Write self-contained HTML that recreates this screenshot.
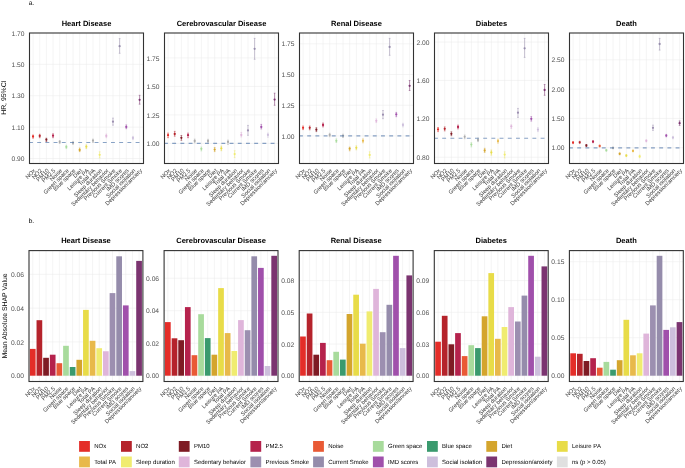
<!DOCTYPE html>
<html><head><meta charset="utf-8"><style>
html,body{margin:0;padding:0;background:#fff;}
svg{display:block;font-family:"Liberation Sans",sans-serif;will-change:transform;text-rendering:geometricPrecision;}
</style></head><body>
<svg width="685" height="468" viewBox="0 0 685 468">
<rect width="685" height="468" fill="#fff"/>
<text x="86.5" y="25.7" text-anchor="middle" font-weight="bold" font-size="7.5" fill="#000">Heart Disease</text>
<line x1="33.05" y1="33.0" x2="33.05" y2="163.5" stroke="#EBEBEB" stroke-width="0.55"/>
<line x1="39.71" y1="33.0" x2="39.71" y2="163.5" stroke="#EBEBEB" stroke-width="0.55"/>
<line x1="46.37" y1="33.0" x2="46.37" y2="163.5" stroke="#EBEBEB" stroke-width="0.55"/>
<line x1="53.03" y1="33.0" x2="53.03" y2="163.5" stroke="#EBEBEB" stroke-width="0.55"/>
<line x1="59.69" y1="33.0" x2="59.69" y2="163.5" stroke="#EBEBEB" stroke-width="0.55"/>
<line x1="66.35" y1="33.0" x2="66.35" y2="163.5" stroke="#EBEBEB" stroke-width="0.55"/>
<line x1="73.01" y1="33.0" x2="73.01" y2="163.5" stroke="#EBEBEB" stroke-width="0.55"/>
<line x1="79.67" y1="33.0" x2="79.67" y2="163.5" stroke="#EBEBEB" stroke-width="0.55"/>
<line x1="86.33" y1="33.0" x2="86.33" y2="163.5" stroke="#EBEBEB" stroke-width="0.55"/>
<line x1="92.99" y1="33.0" x2="92.99" y2="163.5" stroke="#EBEBEB" stroke-width="0.55"/>
<line x1="99.65" y1="33.0" x2="99.65" y2="163.5" stroke="#EBEBEB" stroke-width="0.55"/>
<line x1="106.31" y1="33.0" x2="106.31" y2="163.5" stroke="#EBEBEB" stroke-width="0.55"/>
<line x1="112.97" y1="33.0" x2="112.97" y2="163.5" stroke="#EBEBEB" stroke-width="0.55"/>
<line x1="119.63" y1="33.0" x2="119.63" y2="163.5" stroke="#EBEBEB" stroke-width="0.55"/>
<line x1="126.29" y1="33.0" x2="126.29" y2="163.5" stroke="#EBEBEB" stroke-width="0.55"/>
<line x1="132.95" y1="33.0" x2="132.95" y2="163.5" stroke="#EBEBEB" stroke-width="0.55"/>
<line x1="139.61" y1="33.0" x2="139.61" y2="163.5" stroke="#EBEBEB" stroke-width="0.55"/>
<line x1="29.5" y1="158.5" x2="143.5" y2="158.5" stroke="#EBEBEB" stroke-width="0.55"/>
<text x="24.5" y="161.1" text-anchor="end" font-size="6.7" fill="#505050">0.90</text>
<line x1="29.5" y1="127.1" x2="143.5" y2="127.1" stroke="#EBEBEB" stroke-width="0.55"/>
<text x="24.5" y="129.7" text-anchor="end" font-size="6.7" fill="#505050">1.10</text>
<line x1="29.5" y1="95.7" x2="143.5" y2="95.7" stroke="#EBEBEB" stroke-width="0.55"/>
<text x="24.5" y="98.3" text-anchor="end" font-size="6.7" fill="#505050">1.30</text>
<line x1="29.5" y1="64.3" x2="143.5" y2="64.3" stroke="#EBEBEB" stroke-width="0.55"/>
<text x="24.5" y="66.9" text-anchor="end" font-size="6.7" fill="#505050">1.50</text>
<text x="24.5" y="35.5" text-anchor="end" font-size="6.7" fill="#505050">1.70</text>
<line x1="33.05" y1="135" x2="33.05" y2="138.2" stroke="#E42D28" stroke-width="0.7" stroke-opacity="0.75"/>
<line x1="32.2" y1="135" x2="33.9" y2="135" stroke="#E42D28" stroke-width="0.6" stroke-opacity="0.8"/>
<line x1="32.2" y1="138.2" x2="33.9" y2="138.2" stroke="#E42D28" stroke-width="0.6" stroke-opacity="0.8"/>
<ellipse cx="33.05" cy="136.5" rx="1.1" ry="1.15" fill="#E42D28"/>
<line x1="39.71" y1="134.3" x2="39.71" y2="137.7" stroke="#B5232B" stroke-width="0.7" stroke-opacity="0.75"/>
<line x1="38.86" y1="134.3" x2="40.56" y2="134.3" stroke="#B5232B" stroke-width="0.6" stroke-opacity="0.8"/>
<line x1="38.86" y1="137.7" x2="40.56" y2="137.7" stroke="#B5232B" stroke-width="0.6" stroke-opacity="0.8"/>
<ellipse cx="39.71" cy="135.9" rx="1.1" ry="1.15" fill="#B5232B"/>
<line x1="46.37" y1="138.2" x2="46.37" y2="141.5" stroke="#7E1B24" stroke-width="0.7" stroke-opacity="0.75"/>
<line x1="45.52" y1="138.2" x2="47.22" y2="138.2" stroke="#7E1B24" stroke-width="0.6" stroke-opacity="0.8"/>
<line x1="45.52" y1="141.5" x2="47.22" y2="141.5" stroke="#7E1B24" stroke-width="0.6" stroke-opacity="0.8"/>
<ellipse cx="46.37" cy="139.7" rx="1.1" ry="1.15" fill="#7E1B24"/>
<line x1="53.03" y1="133.8" x2="53.03" y2="137.7" stroke="#B5224C" stroke-width="0.7" stroke-opacity="0.75"/>
<line x1="52.18" y1="133.8" x2="53.88" y2="133.8" stroke="#B5224C" stroke-width="0.6" stroke-opacity="0.8"/>
<line x1="52.18" y1="137.7" x2="53.88" y2="137.7" stroke="#B5224C" stroke-width="0.6" stroke-opacity="0.8"/>
<ellipse cx="53.03" cy="135.7" rx="1.1" ry="1.15" fill="#B5224C"/>
<line x1="59.69" y1="140.5" x2="59.69" y2="143.5" stroke="#ABABAB" stroke-width="0.7" stroke-opacity="0.75"/>
<line x1="58.84" y1="140.5" x2="60.54" y2="140.5" stroke="#ABABAB" stroke-width="0.6" stroke-opacity="0.8"/>
<line x1="58.84" y1="143.5" x2="60.54" y2="143.5" stroke="#ABABAB" stroke-width="0.6" stroke-opacity="0.8"/>
<ellipse cx="59.69" cy="141.9" rx="1.1" ry="1.15" fill="#ABABAB"/>
<line x1="66.35" y1="145.3" x2="66.35" y2="148.6" stroke="#A8DB9C" stroke-width="0.7" stroke-opacity="0.75"/>
<line x1="65.5" y1="145.3" x2="67.2" y2="145.3" stroke="#A8DB9C" stroke-width="0.6" stroke-opacity="0.8"/>
<line x1="65.5" y1="148.6" x2="67.2" y2="148.6" stroke="#A8DB9C" stroke-width="0.6" stroke-opacity="0.8"/>
<ellipse cx="66.35" cy="146.9" rx="1.1" ry="1.15" fill="#A8DB9C"/>
<line x1="73.01" y1="141.4" x2="73.01" y2="144.4" stroke="#ABABAB" stroke-width="0.7" stroke-opacity="0.75"/>
<line x1="72.16" y1="141.4" x2="73.86" y2="141.4" stroke="#ABABAB" stroke-width="0.6" stroke-opacity="0.8"/>
<line x1="72.16" y1="144.4" x2="73.86" y2="144.4" stroke="#ABABAB" stroke-width="0.6" stroke-opacity="0.8"/>
<ellipse cx="73.01" cy="142.9" rx="1.1" ry="1.15" fill="#ABABAB"/>
<line x1="79.67" y1="148" x2="79.67" y2="151.6" stroke="#D4A52D" stroke-width="0.7" stroke-opacity="0.75"/>
<line x1="78.82" y1="148" x2="80.52" y2="148" stroke="#D4A52D" stroke-width="0.6" stroke-opacity="0.8"/>
<line x1="78.82" y1="151.6" x2="80.52" y2="151.6" stroke="#D4A52D" stroke-width="0.6" stroke-opacity="0.8"/>
<ellipse cx="79.67" cy="150" rx="1.1" ry="1.15" fill="#D4A52D"/>
<line x1="86.33" y1="144.9" x2="86.33" y2="148.6" stroke="#E8DC48" stroke-width="0.7" stroke-opacity="0.75"/>
<line x1="85.48" y1="144.9" x2="87.18" y2="144.9" stroke="#E8DC48" stroke-width="0.6" stroke-opacity="0.8"/>
<line x1="85.48" y1="148.6" x2="87.18" y2="148.6" stroke="#E8DC48" stroke-width="0.6" stroke-opacity="0.8"/>
<ellipse cx="86.33" cy="146.7" rx="1.1" ry="1.15" fill="#E8DC48"/>
<line x1="92.99" y1="139.1" x2="92.99" y2="142.5" stroke="#ABABAB" stroke-width="0.7" stroke-opacity="0.75"/>
<line x1="92.14" y1="139.1" x2="93.84" y2="139.1" stroke="#ABABAB" stroke-width="0.6" stroke-opacity="0.8"/>
<line x1="92.14" y1="142.5" x2="93.84" y2="142.5" stroke="#ABABAB" stroke-width="0.6" stroke-opacity="0.8"/>
<ellipse cx="92.99" cy="140.7" rx="1.1" ry="1.15" fill="#ABABAB"/>
<line x1="99.65" y1="151.8" x2="99.65" y2="157.9" stroke="#F0EC70" stroke-width="0.7" stroke-opacity="0.75"/>
<line x1="98.8" y1="151.8" x2="100.5" y2="151.8" stroke="#F0EC70" stroke-width="0.6" stroke-opacity="0.8"/>
<line x1="98.8" y1="157.9" x2="100.5" y2="157.9" stroke="#F0EC70" stroke-width="0.6" stroke-opacity="0.8"/>
<ellipse cx="99.65" cy="154.8" rx="1.1" ry="1.15" fill="#F0EC70"/>
<line x1="106.31" y1="134.1" x2="106.31" y2="137.7" stroke="#DFB5DA" stroke-width="0.7" stroke-opacity="0.75"/>
<line x1="105.46" y1="134.1" x2="107.16" y2="134.1" stroke="#DFB5DA" stroke-width="0.6" stroke-opacity="0.8"/>
<line x1="105.46" y1="137.7" x2="107.16" y2="137.7" stroke="#DFB5DA" stroke-width="0.6" stroke-opacity="0.8"/>
<ellipse cx="106.31" cy="135.9" rx="1.1" ry="1.15" fill="#DFB5DA"/>
<line x1="112.97" y1="118.1" x2="112.97" y2="125.2" stroke="#9C8FB0" stroke-width="0.7" stroke-opacity="0.75"/>
<line x1="112.12" y1="118.1" x2="113.82" y2="118.1" stroke="#9C8FB0" stroke-width="0.6" stroke-opacity="0.8"/>
<line x1="112.12" y1="125.2" x2="113.82" y2="125.2" stroke="#9C8FB0" stroke-width="0.6" stroke-opacity="0.8"/>
<ellipse cx="112.97" cy="121.7" rx="1.1" ry="1.15" fill="#9C8FB0"/>
<line x1="119.63" y1="38.6" x2="119.63" y2="53.3" stroke="#958CAB" stroke-width="0.7" stroke-opacity="0.75"/>
<line x1="118.78" y1="38.6" x2="120.48" y2="38.6" stroke="#958CAB" stroke-width="0.6" stroke-opacity="0.8"/>
<line x1="118.78" y1="53.3" x2="120.48" y2="53.3" stroke="#958CAB" stroke-width="0.6" stroke-opacity="0.8"/>
<ellipse cx="119.63" cy="46.2" rx="1.1" ry="1.15" fill="#958CAB"/>
<line x1="126.29" y1="124.9" x2="126.29" y2="128.7" stroke="#A050AB" stroke-width="0.7" stroke-opacity="0.75"/>
<line x1="125.44" y1="124.9" x2="127.14" y2="124.9" stroke="#A050AB" stroke-width="0.6" stroke-opacity="0.8"/>
<line x1="125.44" y1="128.7" x2="127.14" y2="128.7" stroke="#A050AB" stroke-width="0.6" stroke-opacity="0.8"/>
<ellipse cx="126.29" cy="126.9" rx="1.1" ry="1.15" fill="#A050AB"/>
<line x1="132.95" y1="136.4" x2="132.95" y2="139.6" stroke="#CDBFDC" stroke-width="0.7" stroke-opacity="0.75"/>
<line x1="132.1" y1="136.4" x2="133.8" y2="136.4" stroke="#CDBFDC" stroke-width="0.6" stroke-opacity="0.8"/>
<line x1="132.1" y1="139.6" x2="133.8" y2="139.6" stroke="#CDBFDC" stroke-width="0.6" stroke-opacity="0.8"/>
<ellipse cx="132.95" cy="138" rx="1.1" ry="1.15" fill="#CDBFDC"/>
<line x1="139.61" y1="95.3" x2="139.61" y2="104.2" stroke="#7B3470" stroke-width="0.7" stroke-opacity="0.75"/>
<line x1="138.76" y1="95.3" x2="140.46" y2="95.3" stroke="#7B3470" stroke-width="0.6" stroke-opacity="0.8"/>
<line x1="138.76" y1="104.2" x2="140.46" y2="104.2" stroke="#7B3470" stroke-width="0.6" stroke-opacity="0.8"/>
<ellipse cx="139.61" cy="99.8" rx="1.1" ry="1.15" fill="#7B3470"/>
<line x1="29.5" y1="142.55" x2="143.5" y2="142.55" stroke="#4A72A8" stroke-opacity="0.65" stroke-width="1.1" stroke-dasharray="3.9 4.3" stroke-dashoffset="0.5"/>
<rect x="29.5" y="33.0" width="114.0" height="130.5" fill="none" stroke="#333333" stroke-width="1.1"/>
<text x="33.65" y="168.7" transform="rotate(-45 33.65 168.7)" text-anchor="end" dominant-baseline="hanging" font-size="5.8" fill="#3A3A3A">NOx</text>
<text x="40.31" y="168.7" transform="rotate(-45 40.31 168.7)" text-anchor="end" dominant-baseline="hanging" font-size="5.8" fill="#3A3A3A">NO2</text>
<text x="46.97" y="168.7" transform="rotate(-45 46.97 168.7)" text-anchor="end" dominant-baseline="hanging" font-size="5.8" fill="#3A3A3A">PM10</text>
<text x="53.63" y="168.7" transform="rotate(-45 53.63 168.7)" text-anchor="end" dominant-baseline="hanging" font-size="5.8" fill="#3A3A3A">PM2.5</text>
<text x="60.29" y="168.7" transform="rotate(-45 60.29 168.7)" text-anchor="end" dominant-baseline="hanging" font-size="5.8" fill="#3A3A3A">Noise</text>
<text x="66.95" y="168.7" transform="rotate(-45 66.95 168.7)" text-anchor="end" dominant-baseline="hanging" font-size="5.8" fill="#3A3A3A">Green space</text>
<text x="73.61" y="168.7" transform="rotate(-45 73.61 168.7)" text-anchor="end" dominant-baseline="hanging" font-size="5.8" fill="#3A3A3A">Blue space</text>
<text x="80.27" y="168.7" transform="rotate(-45 80.27 168.7)" text-anchor="end" dominant-baseline="hanging" font-size="5.8" fill="#3A3A3A">Diet</text>
<text x="86.93" y="168.7" transform="rotate(-45 86.93 168.7)" text-anchor="end" dominant-baseline="hanging" font-size="5.8" fill="#3A3A3A">Leisure PA</text>
<text x="93.59" y="168.7" transform="rotate(-45 93.59 168.7)" text-anchor="end" dominant-baseline="hanging" font-size="5.8" fill="#3A3A3A">Total PA</text>
<text x="100.25" y="168.7" transform="rotate(-45 100.25 168.7)" text-anchor="end" dominant-baseline="hanging" font-size="5.8" fill="#3A3A3A">Sleep duration</text>
<text x="106.91" y="168.7" transform="rotate(-45 106.91 168.7)" text-anchor="end" dominant-baseline="hanging" font-size="5.8" fill="#3A3A3A">Sedentary behavior</text>
<text x="113.57" y="168.7" transform="rotate(-45 113.57 168.7)" text-anchor="end" dominant-baseline="hanging" font-size="5.8" fill="#3A3A3A">Previous Smoke</text>
<text x="120.23" y="168.7" transform="rotate(-45 120.23 168.7)" text-anchor="end" dominant-baseline="hanging" font-size="5.8" fill="#3A3A3A">Current Smoke</text>
<text x="126.89" y="168.7" transform="rotate(-45 126.89 168.7)" text-anchor="end" dominant-baseline="hanging" font-size="5.8" fill="#3A3A3A">IMD scores</text>
<text x="133.55" y="168.7" transform="rotate(-45 133.55 168.7)" text-anchor="end" dominant-baseline="hanging" font-size="5.8" fill="#3A3A3A">Social isolation</text>
<text x="140.21" y="168.7" transform="rotate(-45 140.21 168.7)" text-anchor="end" dominant-baseline="hanging" font-size="5.8" fill="#3A3A3A">Depression/anxiety</text>
<text x="85.95" y="243.4" text-anchor="middle" font-weight="bold" font-size="7.5" fill="#000">Heart Disease</text>
<line x1="32.75" y1="250.6" x2="32.75" y2="381.5" stroke="#EBEBEB" stroke-width="0.55"/>
<line x1="39.39" y1="250.6" x2="39.39" y2="381.5" stroke="#EBEBEB" stroke-width="0.55"/>
<line x1="46.04" y1="250.6" x2="46.04" y2="381.5" stroke="#EBEBEB" stroke-width="0.55"/>
<line x1="52.69" y1="250.6" x2="52.69" y2="381.5" stroke="#EBEBEB" stroke-width="0.55"/>
<line x1="59.33" y1="250.6" x2="59.33" y2="381.5" stroke="#EBEBEB" stroke-width="0.55"/>
<line x1="65.97" y1="250.6" x2="65.97" y2="381.5" stroke="#EBEBEB" stroke-width="0.55"/>
<line x1="72.62" y1="250.6" x2="72.62" y2="381.5" stroke="#EBEBEB" stroke-width="0.55"/>
<line x1="79.27" y1="250.6" x2="79.27" y2="381.5" stroke="#EBEBEB" stroke-width="0.55"/>
<line x1="85.91" y1="250.6" x2="85.91" y2="381.5" stroke="#EBEBEB" stroke-width="0.55"/>
<line x1="92.55" y1="250.6" x2="92.55" y2="381.5" stroke="#EBEBEB" stroke-width="0.55"/>
<line x1="99.2" y1="250.6" x2="99.2" y2="381.5" stroke="#EBEBEB" stroke-width="0.55"/>
<line x1="105.84" y1="250.6" x2="105.84" y2="381.5" stroke="#EBEBEB" stroke-width="0.55"/>
<line x1="112.49" y1="250.6" x2="112.49" y2="381.5" stroke="#EBEBEB" stroke-width="0.55"/>
<line x1="119.13" y1="250.6" x2="119.13" y2="381.5" stroke="#EBEBEB" stroke-width="0.55"/>
<line x1="125.78" y1="250.6" x2="125.78" y2="381.5" stroke="#EBEBEB" stroke-width="0.55"/>
<line x1="132.43" y1="250.6" x2="132.43" y2="381.5" stroke="#EBEBEB" stroke-width="0.55"/>
<line x1="139.07" y1="250.6" x2="139.07" y2="381.5" stroke="#EBEBEB" stroke-width="0.55"/>
<line x1="29.0" y1="375.7" x2="142.9" y2="375.7" stroke="#EBEBEB" stroke-width="0.55"/>
<text x="24" y="378.3" text-anchor="end" font-size="6.7" fill="#505050">0.00</text>
<line x1="29.0" y1="341.9" x2="142.9" y2="341.9" stroke="#EBEBEB" stroke-width="0.55"/>
<text x="24" y="344.5" text-anchor="end" font-size="6.7" fill="#505050">0.02</text>
<line x1="29.0" y1="308.1" x2="142.9" y2="308.1" stroke="#EBEBEB" stroke-width="0.55"/>
<text x="24" y="310.7" text-anchor="end" font-size="6.7" fill="#505050">0.04</text>
<line x1="29.0" y1="274.3" x2="142.9" y2="274.3" stroke="#EBEBEB" stroke-width="0.55"/>
<text x="24" y="276.9" text-anchor="end" font-size="6.7" fill="#505050">0.06</text>
<rect x="29.9" y="348.9" width="5.7" height="26.8" fill="#E42D28"/>
<rect x="36.54" y="320.2" width="5.7" height="55.5" fill="#B5232B"/>
<rect x="43.19" y="357.8" width="5.7" height="17.9" fill="#7E1B24"/>
<rect x="49.84" y="354.7" width="5.7" height="21" fill="#B5224C"/>
<rect x="56.48" y="363.2" width="5.7" height="12.5" fill="#E95A35"/>
<rect x="63.12" y="345.8" width="5.7" height="29.9" fill="#A8DB9C"/>
<rect x="69.77" y="367" width="5.7" height="8.7" fill="#3A9A6E"/>
<rect x="76.42" y="359.8" width="5.7" height="15.9" fill="#D4A52D"/>
<rect x="83.06" y="309.9" width="5.7" height="65.8" fill="#E8DC48"/>
<rect x="89.7" y="340.8" width="5.7" height="34.9" fill="#E8B94A"/>
<rect x="96.35" y="348.2" width="5.7" height="27.5" fill="#F0EC70"/>
<rect x="103" y="351.25" width="5.7" height="24.45" fill="#DFB5DA"/>
<rect x="109.64" y="293.1" width="5.7" height="82.6" fill="#9C8FB0"/>
<rect x="116.28" y="256.3" width="5.7" height="119.4" fill="#958CAB"/>
<rect x="122.93" y="305.4" width="5.7" height="70.3" fill="#A050AB"/>
<rect x="129.58" y="371.1" width="5.7" height="4.6" fill="#CDBFDC"/>
<rect x="136.22" y="260.9" width="5.7" height="114.8" fill="#7B3470"/>
<rect x="29.0" y="250.6" width="113.9" height="130.9" fill="none" stroke="#333333" stroke-width="1.1"/>
<text x="33.35" y="386.7" transform="rotate(-45 33.35 386.7)" text-anchor="end" dominant-baseline="hanging" font-size="5.8" fill="#3A3A3A">NOx</text>
<text x="39.99" y="386.7" transform="rotate(-45 39.99 386.7)" text-anchor="end" dominant-baseline="hanging" font-size="5.8" fill="#3A3A3A">NO2</text>
<text x="46.64" y="386.7" transform="rotate(-45 46.64 386.7)" text-anchor="end" dominant-baseline="hanging" font-size="5.8" fill="#3A3A3A">PM10</text>
<text x="53.29" y="386.7" transform="rotate(-45 53.29 386.7)" text-anchor="end" dominant-baseline="hanging" font-size="5.8" fill="#3A3A3A">PM2.5</text>
<text x="59.93" y="386.7" transform="rotate(-45 59.93 386.7)" text-anchor="end" dominant-baseline="hanging" font-size="5.8" fill="#3A3A3A">Noise</text>
<text x="66.57" y="386.7" transform="rotate(-45 66.57 386.7)" text-anchor="end" dominant-baseline="hanging" font-size="5.8" fill="#3A3A3A">Green space</text>
<text x="73.22" y="386.7" transform="rotate(-45 73.22 386.7)" text-anchor="end" dominant-baseline="hanging" font-size="5.8" fill="#3A3A3A">Blue space</text>
<text x="79.86" y="386.7" transform="rotate(-45 79.86 386.7)" text-anchor="end" dominant-baseline="hanging" font-size="5.8" fill="#3A3A3A">Diet</text>
<text x="86.51" y="386.7" transform="rotate(-45 86.51 386.7)" text-anchor="end" dominant-baseline="hanging" font-size="5.8" fill="#3A3A3A">Leisure PA</text>
<text x="93.15" y="386.7" transform="rotate(-45 93.15 386.7)" text-anchor="end" dominant-baseline="hanging" font-size="5.8" fill="#3A3A3A">Total PA</text>
<text x="99.8" y="386.7" transform="rotate(-45 99.8 386.7)" text-anchor="end" dominant-baseline="hanging" font-size="5.8" fill="#3A3A3A">Sleep duration</text>
<text x="106.44" y="386.7" transform="rotate(-45 106.44 386.7)" text-anchor="end" dominant-baseline="hanging" font-size="5.8" fill="#3A3A3A">Sedentary behavior</text>
<text x="113.09" y="386.7" transform="rotate(-45 113.09 386.7)" text-anchor="end" dominant-baseline="hanging" font-size="5.8" fill="#3A3A3A">Previous Smoke</text>
<text x="119.73" y="386.7" transform="rotate(-45 119.73 386.7)" text-anchor="end" dominant-baseline="hanging" font-size="5.8" fill="#3A3A3A">Current Smoke</text>
<text x="126.38" y="386.7" transform="rotate(-45 126.38 386.7)" text-anchor="end" dominant-baseline="hanging" font-size="5.8" fill="#3A3A3A">IMD scores</text>
<text x="133.03" y="386.7" transform="rotate(-45 133.03 386.7)" text-anchor="end" dominant-baseline="hanging" font-size="5.8" fill="#3A3A3A">Social isolation</text>
<text x="139.67" y="386.7" transform="rotate(-45 139.67 386.7)" text-anchor="end" dominant-baseline="hanging" font-size="5.8" fill="#3A3A3A">Depression/anxiety</text>
<text x="221.5" y="25.7" text-anchor="middle" font-weight="bold" font-size="7.5" fill="#000">Cerebrovascular Disease</text>
<line x1="168.05" y1="33.0" x2="168.05" y2="163.5" stroke="#EBEBEB" stroke-width="0.55"/>
<line x1="174.71" y1="33.0" x2="174.71" y2="163.5" stroke="#EBEBEB" stroke-width="0.55"/>
<line x1="181.37" y1="33.0" x2="181.37" y2="163.5" stroke="#EBEBEB" stroke-width="0.55"/>
<line x1="188.03" y1="33.0" x2="188.03" y2="163.5" stroke="#EBEBEB" stroke-width="0.55"/>
<line x1="194.69" y1="33.0" x2="194.69" y2="163.5" stroke="#EBEBEB" stroke-width="0.55"/>
<line x1="201.35" y1="33.0" x2="201.35" y2="163.5" stroke="#EBEBEB" stroke-width="0.55"/>
<line x1="208.01" y1="33.0" x2="208.01" y2="163.5" stroke="#EBEBEB" stroke-width="0.55"/>
<line x1="214.67" y1="33.0" x2="214.67" y2="163.5" stroke="#EBEBEB" stroke-width="0.55"/>
<line x1="221.33" y1="33.0" x2="221.33" y2="163.5" stroke="#EBEBEB" stroke-width="0.55"/>
<line x1="227.99" y1="33.0" x2="227.99" y2="163.5" stroke="#EBEBEB" stroke-width="0.55"/>
<line x1="234.65" y1="33.0" x2="234.65" y2="163.5" stroke="#EBEBEB" stroke-width="0.55"/>
<line x1="241.31" y1="33.0" x2="241.31" y2="163.5" stroke="#EBEBEB" stroke-width="0.55"/>
<line x1="247.97" y1="33.0" x2="247.97" y2="163.5" stroke="#EBEBEB" stroke-width="0.55"/>
<line x1="254.63" y1="33.0" x2="254.63" y2="163.5" stroke="#EBEBEB" stroke-width="0.55"/>
<line x1="261.29" y1="33.0" x2="261.29" y2="163.5" stroke="#EBEBEB" stroke-width="0.55"/>
<line x1="267.95" y1="33.0" x2="267.95" y2="163.5" stroke="#EBEBEB" stroke-width="0.55"/>
<line x1="274.61" y1="33.0" x2="274.61" y2="163.5" stroke="#EBEBEB" stroke-width="0.55"/>
<line x1="164.5" y1="143.4" x2="278.5" y2="143.4" stroke="#EBEBEB" stroke-width="0.55"/>
<text x="159.5" y="146" text-anchor="end" font-size="6.7" fill="#505050">1.00</text>
<line x1="164.5" y1="114.9" x2="278.5" y2="114.9" stroke="#EBEBEB" stroke-width="0.55"/>
<text x="159.5" y="117.5" text-anchor="end" font-size="6.7" fill="#505050">1.25</text>
<line x1="164.5" y1="86.4" x2="278.5" y2="86.4" stroke="#EBEBEB" stroke-width="0.55"/>
<text x="159.5" y="89" text-anchor="end" font-size="6.7" fill="#505050">1.50</text>
<line x1="164.5" y1="57.9" x2="278.5" y2="57.9" stroke="#EBEBEB" stroke-width="0.55"/>
<text x="159.5" y="60.5" text-anchor="end" font-size="6.7" fill="#505050">1.75</text>
<line x1="168.05" y1="133.1" x2="168.05" y2="137.7" stroke="#E42D28" stroke-width="0.7" stroke-opacity="0.75"/>
<line x1="167.2" y1="133.1" x2="168.9" y2="133.1" stroke="#E42D28" stroke-width="0.6" stroke-opacity="0.8"/>
<line x1="167.2" y1="137.7" x2="168.9" y2="137.7" stroke="#E42D28" stroke-width="0.6" stroke-opacity="0.8"/>
<ellipse cx="168.05" cy="135.2" rx="1.1" ry="1.15" fill="#E42D28"/>
<line x1="174.71" y1="131.4" x2="174.71" y2="136.2" stroke="#B5232B" stroke-width="0.7" stroke-opacity="0.75"/>
<line x1="173.86" y1="131.4" x2="175.56" y2="131.4" stroke="#B5232B" stroke-width="0.6" stroke-opacity="0.8"/>
<line x1="173.86" y1="136.2" x2="175.56" y2="136.2" stroke="#B5232B" stroke-width="0.6" stroke-opacity="0.8"/>
<ellipse cx="174.71" cy="134" rx="1.1" ry="1.15" fill="#B5232B"/>
<line x1="181.37" y1="135.5" x2="181.37" y2="140.3" stroke="#7E1B24" stroke-width="0.7" stroke-opacity="0.75"/>
<line x1="180.52" y1="135.5" x2="182.22" y2="135.5" stroke="#7E1B24" stroke-width="0.6" stroke-opacity="0.8"/>
<line x1="180.52" y1="140.3" x2="182.22" y2="140.3" stroke="#7E1B24" stroke-width="0.6" stroke-opacity="0.8"/>
<ellipse cx="181.37" cy="137.8" rx="1.1" ry="1.15" fill="#7E1B24"/>
<line x1="188.03" y1="133.1" x2="188.03" y2="137.7" stroke="#B5224C" stroke-width="0.7" stroke-opacity="0.75"/>
<line x1="187.18" y1="133.1" x2="188.88" y2="133.1" stroke="#B5224C" stroke-width="0.6" stroke-opacity="0.8"/>
<line x1="187.18" y1="137.7" x2="188.88" y2="137.7" stroke="#B5224C" stroke-width="0.6" stroke-opacity="0.8"/>
<ellipse cx="188.03" cy="135.2" rx="1.1" ry="1.15" fill="#B5224C"/>
<line x1="194.69" y1="139.1" x2="194.69" y2="142.8" stroke="#ABABAB" stroke-width="0.7" stroke-opacity="0.75"/>
<line x1="193.84" y1="139.1" x2="195.54" y2="139.1" stroke="#ABABAB" stroke-width="0.6" stroke-opacity="0.8"/>
<line x1="193.84" y1="142.8" x2="195.54" y2="142.8" stroke="#ABABAB" stroke-width="0.6" stroke-opacity="0.8"/>
<ellipse cx="194.69" cy="141" rx="1.1" ry="1.15" fill="#ABABAB"/>
<line x1="201.35" y1="147" x2="201.35" y2="150.9" stroke="#A8DB9C" stroke-width="0.7" stroke-opacity="0.75"/>
<line x1="200.5" y1="147" x2="202.2" y2="147" stroke="#A8DB9C" stroke-width="0.6" stroke-opacity="0.8"/>
<line x1="200.5" y1="150.9" x2="202.2" y2="150.9" stroke="#A8DB9C" stroke-width="0.6" stroke-opacity="0.8"/>
<ellipse cx="201.35" cy="148.8" rx="1.1" ry="1.15" fill="#A8DB9C"/>
<line x1="208.01" y1="139.3" x2="208.01" y2="142.9" stroke="#ABABAB" stroke-width="0.7" stroke-opacity="0.75"/>
<line x1="207.16" y1="139.3" x2="208.86" y2="139.3" stroke="#ABABAB" stroke-width="0.6" stroke-opacity="0.8"/>
<line x1="207.16" y1="142.9" x2="208.86" y2="142.9" stroke="#ABABAB" stroke-width="0.6" stroke-opacity="0.8"/>
<ellipse cx="208.01" cy="141" rx="1.1" ry="1.15" fill="#ABABAB"/>
<line x1="214.67" y1="147.5" x2="214.67" y2="151.6" stroke="#D4A52D" stroke-width="0.7" stroke-opacity="0.75"/>
<line x1="213.82" y1="147.5" x2="215.52" y2="147.5" stroke="#D4A52D" stroke-width="0.6" stroke-opacity="0.8"/>
<line x1="213.82" y1="151.6" x2="215.52" y2="151.6" stroke="#D4A52D" stroke-width="0.6" stroke-opacity="0.8"/>
<ellipse cx="214.67" cy="149.6" rx="1.1" ry="1.15" fill="#D4A52D"/>
<line x1="221.33" y1="146.1" x2="221.33" y2="150.7" stroke="#E8DC48" stroke-width="0.7" stroke-opacity="0.75"/>
<line x1="220.48" y1="146.1" x2="222.18" y2="146.1" stroke="#E8DC48" stroke-width="0.6" stroke-opacity="0.8"/>
<line x1="220.48" y1="150.7" x2="222.18" y2="150.7" stroke="#E8DC48" stroke-width="0.6" stroke-opacity="0.8"/>
<ellipse cx="221.33" cy="148.4" rx="1.1" ry="1.15" fill="#E8DC48"/>
<line x1="227.99" y1="140.1" x2="227.99" y2="144.4" stroke="#ABABAB" stroke-width="0.7" stroke-opacity="0.75"/>
<line x1="227.14" y1="140.1" x2="228.84" y2="140.1" stroke="#ABABAB" stroke-width="0.6" stroke-opacity="0.8"/>
<line x1="227.14" y1="144.4" x2="228.84" y2="144.4" stroke="#ABABAB" stroke-width="0.6" stroke-opacity="0.8"/>
<ellipse cx="227.99" cy="141.9" rx="1.1" ry="1.15" fill="#ABABAB"/>
<line x1="234.65" y1="150.7" x2="234.65" y2="157.6" stroke="#F0EC70" stroke-width="0.7" stroke-opacity="0.75"/>
<line x1="233.8" y1="150.7" x2="235.5" y2="150.7" stroke="#F0EC70" stroke-width="0.6" stroke-opacity="0.8"/>
<line x1="233.8" y1="157.6" x2="235.5" y2="157.6" stroke="#F0EC70" stroke-width="0.6" stroke-opacity="0.8"/>
<ellipse cx="234.65" cy="154.1" rx="1.1" ry="1.15" fill="#F0EC70"/>
<line x1="241.31" y1="132.4" x2="241.31" y2="137" stroke="#DFB5DA" stroke-width="0.7" stroke-opacity="0.75"/>
<line x1="240.46" y1="132.4" x2="242.16" y2="132.4" stroke="#DFB5DA" stroke-width="0.6" stroke-opacity="0.8"/>
<line x1="240.46" y1="137" x2="242.16" y2="137" stroke="#DFB5DA" stroke-width="0.6" stroke-opacity="0.8"/>
<ellipse cx="241.31" cy="134.9" rx="1.1" ry="1.15" fill="#DFB5DA"/>
<line x1="247.97" y1="125.4" x2="247.97" y2="135.3" stroke="#9C8FB0" stroke-width="0.7" stroke-opacity="0.75"/>
<line x1="247.12" y1="125.4" x2="248.82" y2="125.4" stroke="#9C8FB0" stroke-width="0.6" stroke-opacity="0.8"/>
<line x1="247.12" y1="135.3" x2="248.82" y2="135.3" stroke="#9C8FB0" stroke-width="0.6" stroke-opacity="0.8"/>
<ellipse cx="247.97" cy="130.4" rx="1.1" ry="1.15" fill="#9C8FB0"/>
<line x1="254.63" y1="38.4" x2="254.63" y2="59.3" stroke="#958CAB" stroke-width="0.7" stroke-opacity="0.75"/>
<line x1="253.78" y1="38.4" x2="255.48" y2="38.4" stroke="#958CAB" stroke-width="0.6" stroke-opacity="0.8"/>
<line x1="253.78" y1="59.3" x2="255.48" y2="59.3" stroke="#958CAB" stroke-width="0.6" stroke-opacity="0.8"/>
<ellipse cx="254.63" cy="48.8" rx="1.1" ry="1.15" fill="#958CAB"/>
<line x1="261.29" y1="124.4" x2="261.29" y2="129" stroke="#A050AB" stroke-width="0.7" stroke-opacity="0.75"/>
<line x1="260.44" y1="124.4" x2="262.14" y2="124.4" stroke="#A050AB" stroke-width="0.6" stroke-opacity="0.8"/>
<line x1="260.44" y1="129" x2="262.14" y2="129" stroke="#A050AB" stroke-width="0.6" stroke-opacity="0.8"/>
<ellipse cx="261.29" cy="126.9" rx="1.1" ry="1.15" fill="#A050AB"/>
<line x1="267.95" y1="133.1" x2="267.95" y2="137.2" stroke="#CDBFDC" stroke-width="0.7" stroke-opacity="0.75"/>
<line x1="267.1" y1="133.1" x2="268.8" y2="133.1" stroke="#CDBFDC" stroke-width="0.6" stroke-opacity="0.8"/>
<line x1="267.1" y1="137.2" x2="268.8" y2="137.2" stroke="#CDBFDC" stroke-width="0.6" stroke-opacity="0.8"/>
<ellipse cx="267.95" cy="134.9" rx="1.1" ry="1.15" fill="#CDBFDC"/>
<line x1="274.61" y1="93.2" x2="274.61" y2="105.3" stroke="#7B3470" stroke-width="0.7" stroke-opacity="0.75"/>
<line x1="273.76" y1="93.2" x2="275.46" y2="93.2" stroke="#7B3470" stroke-width="0.6" stroke-opacity="0.8"/>
<line x1="273.76" y1="105.3" x2="275.46" y2="105.3" stroke="#7B3470" stroke-width="0.6" stroke-opacity="0.8"/>
<ellipse cx="274.61" cy="99.6" rx="1.1" ry="1.15" fill="#7B3470"/>
<line x1="164.5" y1="143.35" x2="278.5" y2="143.35" stroke="#4A72A8" stroke-opacity="0.65" stroke-width="1.1" stroke-dasharray="3.9 4.3" stroke-dashoffset="0.5"/>
<rect x="164.5" y="33.0" width="114.0" height="130.5" fill="none" stroke="#333333" stroke-width="1.1"/>
<text x="168.65" y="168.7" transform="rotate(-45 168.65 168.7)" text-anchor="end" dominant-baseline="hanging" font-size="5.8" fill="#3A3A3A">NOx</text>
<text x="175.31" y="168.7" transform="rotate(-45 175.31 168.7)" text-anchor="end" dominant-baseline="hanging" font-size="5.8" fill="#3A3A3A">NO2</text>
<text x="181.97" y="168.7" transform="rotate(-45 181.97 168.7)" text-anchor="end" dominant-baseline="hanging" font-size="5.8" fill="#3A3A3A">PM10</text>
<text x="188.63" y="168.7" transform="rotate(-45 188.63 168.7)" text-anchor="end" dominant-baseline="hanging" font-size="5.8" fill="#3A3A3A">PM2.5</text>
<text x="195.29" y="168.7" transform="rotate(-45 195.29 168.7)" text-anchor="end" dominant-baseline="hanging" font-size="5.8" fill="#3A3A3A">Noise</text>
<text x="201.95" y="168.7" transform="rotate(-45 201.95 168.7)" text-anchor="end" dominant-baseline="hanging" font-size="5.8" fill="#3A3A3A">Green space</text>
<text x="208.61" y="168.7" transform="rotate(-45 208.61 168.7)" text-anchor="end" dominant-baseline="hanging" font-size="5.8" fill="#3A3A3A">Blue space</text>
<text x="215.27" y="168.7" transform="rotate(-45 215.27 168.7)" text-anchor="end" dominant-baseline="hanging" font-size="5.8" fill="#3A3A3A">Diet</text>
<text x="221.93" y="168.7" transform="rotate(-45 221.93 168.7)" text-anchor="end" dominant-baseline="hanging" font-size="5.8" fill="#3A3A3A">Leisure PA</text>
<text x="228.59" y="168.7" transform="rotate(-45 228.59 168.7)" text-anchor="end" dominant-baseline="hanging" font-size="5.8" fill="#3A3A3A">Total PA</text>
<text x="235.25" y="168.7" transform="rotate(-45 235.25 168.7)" text-anchor="end" dominant-baseline="hanging" font-size="5.8" fill="#3A3A3A">Sleep duration</text>
<text x="241.91" y="168.7" transform="rotate(-45 241.91 168.7)" text-anchor="end" dominant-baseline="hanging" font-size="5.8" fill="#3A3A3A">Sedentary behavior</text>
<text x="248.57" y="168.7" transform="rotate(-45 248.57 168.7)" text-anchor="end" dominant-baseline="hanging" font-size="5.8" fill="#3A3A3A">Previous Smoke</text>
<text x="255.23" y="168.7" transform="rotate(-45 255.23 168.7)" text-anchor="end" dominant-baseline="hanging" font-size="5.8" fill="#3A3A3A">Current Smoke</text>
<text x="261.89" y="168.7" transform="rotate(-45 261.89 168.7)" text-anchor="end" dominant-baseline="hanging" font-size="5.8" fill="#3A3A3A">IMD scores</text>
<text x="268.55" y="168.7" transform="rotate(-45 268.55 168.7)" text-anchor="end" dominant-baseline="hanging" font-size="5.8" fill="#3A3A3A">Social isolation</text>
<text x="275.21" y="168.7" transform="rotate(-45 275.21 168.7)" text-anchor="end" dominant-baseline="hanging" font-size="5.8" fill="#3A3A3A">Depression/anxiety</text>
<text x="221.05" y="243.4" text-anchor="middle" font-weight="bold" font-size="7.5" fill="#000">Cerebrovascular Disease</text>
<line x1="167.85" y1="250.6" x2="167.85" y2="381.5" stroke="#EBEBEB" stroke-width="0.55"/>
<line x1="174.5" y1="250.6" x2="174.5" y2="381.5" stroke="#EBEBEB" stroke-width="0.55"/>
<line x1="181.14" y1="250.6" x2="181.14" y2="381.5" stroke="#EBEBEB" stroke-width="0.55"/>
<line x1="187.78" y1="250.6" x2="187.78" y2="381.5" stroke="#EBEBEB" stroke-width="0.55"/>
<line x1="194.43" y1="250.6" x2="194.43" y2="381.5" stroke="#EBEBEB" stroke-width="0.55"/>
<line x1="201.07" y1="250.6" x2="201.07" y2="381.5" stroke="#EBEBEB" stroke-width="0.55"/>
<line x1="207.72" y1="250.6" x2="207.72" y2="381.5" stroke="#EBEBEB" stroke-width="0.55"/>
<line x1="214.37" y1="250.6" x2="214.37" y2="381.5" stroke="#EBEBEB" stroke-width="0.55"/>
<line x1="221.01" y1="250.6" x2="221.01" y2="381.5" stroke="#EBEBEB" stroke-width="0.55"/>
<line x1="227.65" y1="250.6" x2="227.65" y2="381.5" stroke="#EBEBEB" stroke-width="0.55"/>
<line x1="234.3" y1="250.6" x2="234.3" y2="381.5" stroke="#EBEBEB" stroke-width="0.55"/>
<line x1="240.94" y1="250.6" x2="240.94" y2="381.5" stroke="#EBEBEB" stroke-width="0.55"/>
<line x1="247.59" y1="250.6" x2="247.59" y2="381.5" stroke="#EBEBEB" stroke-width="0.55"/>
<line x1="254.23" y1="250.6" x2="254.23" y2="381.5" stroke="#EBEBEB" stroke-width="0.55"/>
<line x1="260.88" y1="250.6" x2="260.88" y2="381.5" stroke="#EBEBEB" stroke-width="0.55"/>
<line x1="267.52" y1="250.6" x2="267.52" y2="381.5" stroke="#EBEBEB" stroke-width="0.55"/>
<line x1="274.17" y1="250.6" x2="274.17" y2="381.5" stroke="#EBEBEB" stroke-width="0.55"/>
<line x1="164.1" y1="375.7" x2="278" y2="375.7" stroke="#EBEBEB" stroke-width="0.55"/>
<text x="159.1" y="378.3" text-anchor="end" font-size="6.7" fill="#505050">0.00</text>
<line x1="164.1" y1="343.2" x2="278" y2="343.2" stroke="#EBEBEB" stroke-width="0.55"/>
<text x="159.1" y="345.8" text-anchor="end" font-size="6.7" fill="#505050">0.02</text>
<line x1="164.1" y1="310.7" x2="278" y2="310.7" stroke="#EBEBEB" stroke-width="0.55"/>
<text x="159.1" y="313.3" text-anchor="end" font-size="6.7" fill="#505050">0.04</text>
<line x1="164.1" y1="278.2" x2="278" y2="278.2" stroke="#EBEBEB" stroke-width="0.55"/>
<text x="159.1" y="280.8" text-anchor="end" font-size="6.7" fill="#505050">0.06</text>
<rect x="165" y="322.1" width="5.7" height="53.6" fill="#E42D28"/>
<rect x="171.65" y="338.3" width="5.7" height="37.4" fill="#B5232B"/>
<rect x="178.29" y="340.2" width="5.7" height="35.5" fill="#7E1B24"/>
<rect x="184.94" y="307.1" width="5.7" height="68.6" fill="#B5224C"/>
<rect x="191.58" y="355.2" width="5.7" height="20.5" fill="#E95A35"/>
<rect x="198.22" y="314.2" width="5.7" height="61.5" fill="#A8DB9C"/>
<rect x="204.87" y="338.1" width="5.7" height="37.6" fill="#3A9A6E"/>
<rect x="211.52" y="354.7" width="5.7" height="21" fill="#D4A52D"/>
<rect x="218.16" y="288.1" width="5.7" height="87.6" fill="#E8DC48"/>
<rect x="224.8" y="333.1" width="5.7" height="42.6" fill="#E8B94A"/>
<rect x="231.45" y="351" width="5.7" height="24.7" fill="#F0EC70"/>
<rect x="238.09" y="320.1" width="5.7" height="55.6" fill="#DFB5DA"/>
<rect x="244.74" y="330.2" width="5.7" height="45.5" fill="#9C8FB0"/>
<rect x="251.38" y="256.3" width="5.7" height="119.4" fill="#958CAB"/>
<rect x="258.03" y="267.9" width="5.7" height="107.8" fill="#A050AB"/>
<rect x="264.67" y="366" width="5.7" height="9.7" fill="#CDBFDC"/>
<rect x="271.32" y="255.8" width="5.7" height="119.9" fill="#7B3470"/>
<rect x="164.1" y="250.6" width="113.9" height="130.9" fill="none" stroke="#333333" stroke-width="1.1"/>
<text x="168.45" y="386.7" transform="rotate(-45 168.45 386.7)" text-anchor="end" dominant-baseline="hanging" font-size="5.8" fill="#3A3A3A">NOx</text>
<text x="175.09" y="386.7" transform="rotate(-45 175.09 386.7)" text-anchor="end" dominant-baseline="hanging" font-size="5.8" fill="#3A3A3A">NO2</text>
<text x="181.74" y="386.7" transform="rotate(-45 181.74 386.7)" text-anchor="end" dominant-baseline="hanging" font-size="5.8" fill="#3A3A3A">PM10</text>
<text x="188.38" y="386.7" transform="rotate(-45 188.38 386.7)" text-anchor="end" dominant-baseline="hanging" font-size="5.8" fill="#3A3A3A">PM2.5</text>
<text x="195.03" y="386.7" transform="rotate(-45 195.03 386.7)" text-anchor="end" dominant-baseline="hanging" font-size="5.8" fill="#3A3A3A">Noise</text>
<text x="201.67" y="386.7" transform="rotate(-45 201.67 386.7)" text-anchor="end" dominant-baseline="hanging" font-size="5.8" fill="#3A3A3A">Green space</text>
<text x="208.32" y="386.7" transform="rotate(-45 208.32 386.7)" text-anchor="end" dominant-baseline="hanging" font-size="5.8" fill="#3A3A3A">Blue space</text>
<text x="214.97" y="386.7" transform="rotate(-45 214.97 386.7)" text-anchor="end" dominant-baseline="hanging" font-size="5.8" fill="#3A3A3A">Diet</text>
<text x="221.61" y="386.7" transform="rotate(-45 221.61 386.7)" text-anchor="end" dominant-baseline="hanging" font-size="5.8" fill="#3A3A3A">Leisure PA</text>
<text x="228.25" y="386.7" transform="rotate(-45 228.25 386.7)" text-anchor="end" dominant-baseline="hanging" font-size="5.8" fill="#3A3A3A">Total PA</text>
<text x="234.9" y="386.7" transform="rotate(-45 234.9 386.7)" text-anchor="end" dominant-baseline="hanging" font-size="5.8" fill="#3A3A3A">Sleep duration</text>
<text x="241.54" y="386.7" transform="rotate(-45 241.54 386.7)" text-anchor="end" dominant-baseline="hanging" font-size="5.8" fill="#3A3A3A">Sedentary behavior</text>
<text x="248.19" y="386.7" transform="rotate(-45 248.19 386.7)" text-anchor="end" dominant-baseline="hanging" font-size="5.8" fill="#3A3A3A">Previous Smoke</text>
<text x="254.83" y="386.7" transform="rotate(-45 254.83 386.7)" text-anchor="end" dominant-baseline="hanging" font-size="5.8" fill="#3A3A3A">Current Smoke</text>
<text x="261.48" y="386.7" transform="rotate(-45 261.48 386.7)" text-anchor="end" dominant-baseline="hanging" font-size="5.8" fill="#3A3A3A">IMD scores</text>
<text x="268.12" y="386.7" transform="rotate(-45 268.12 386.7)" text-anchor="end" dominant-baseline="hanging" font-size="5.8" fill="#3A3A3A">Social isolation</text>
<text x="274.77" y="386.7" transform="rotate(-45 274.77 386.7)" text-anchor="end" dominant-baseline="hanging" font-size="5.8" fill="#3A3A3A">Depression/anxiety</text>
<text x="356.5" y="25.7" text-anchor="middle" font-weight="bold" font-size="7.5" fill="#000">Renal Disease</text>
<line x1="303.05" y1="33.0" x2="303.05" y2="163.5" stroke="#EBEBEB" stroke-width="0.55"/>
<line x1="309.71" y1="33.0" x2="309.71" y2="163.5" stroke="#EBEBEB" stroke-width="0.55"/>
<line x1="316.37" y1="33.0" x2="316.37" y2="163.5" stroke="#EBEBEB" stroke-width="0.55"/>
<line x1="323.03" y1="33.0" x2="323.03" y2="163.5" stroke="#EBEBEB" stroke-width="0.55"/>
<line x1="329.69" y1="33.0" x2="329.69" y2="163.5" stroke="#EBEBEB" stroke-width="0.55"/>
<line x1="336.35" y1="33.0" x2="336.35" y2="163.5" stroke="#EBEBEB" stroke-width="0.55"/>
<line x1="343.01" y1="33.0" x2="343.01" y2="163.5" stroke="#EBEBEB" stroke-width="0.55"/>
<line x1="349.67" y1="33.0" x2="349.67" y2="163.5" stroke="#EBEBEB" stroke-width="0.55"/>
<line x1="356.33" y1="33.0" x2="356.33" y2="163.5" stroke="#EBEBEB" stroke-width="0.55"/>
<line x1="362.99" y1="33.0" x2="362.99" y2="163.5" stroke="#EBEBEB" stroke-width="0.55"/>
<line x1="369.65" y1="33.0" x2="369.65" y2="163.5" stroke="#EBEBEB" stroke-width="0.55"/>
<line x1="376.31" y1="33.0" x2="376.31" y2="163.5" stroke="#EBEBEB" stroke-width="0.55"/>
<line x1="382.97" y1="33.0" x2="382.97" y2="163.5" stroke="#EBEBEB" stroke-width="0.55"/>
<line x1="389.63" y1="33.0" x2="389.63" y2="163.5" stroke="#EBEBEB" stroke-width="0.55"/>
<line x1="396.29" y1="33.0" x2="396.29" y2="163.5" stroke="#EBEBEB" stroke-width="0.55"/>
<line x1="402.95" y1="33.0" x2="402.95" y2="163.5" stroke="#EBEBEB" stroke-width="0.55"/>
<line x1="409.61" y1="33.0" x2="409.61" y2="163.5" stroke="#EBEBEB" stroke-width="0.55"/>
<line x1="299.5" y1="135.9" x2="413.5" y2="135.9" stroke="#EBEBEB" stroke-width="0.55"/>
<text x="294.5" y="138.5" text-anchor="end" font-size="6.7" fill="#505050">1.00</text>
<line x1="299.5" y1="105.2" x2="413.5" y2="105.2" stroke="#EBEBEB" stroke-width="0.55"/>
<text x="294.5" y="107.8" text-anchor="end" font-size="6.7" fill="#505050">1.25</text>
<line x1="299.5" y1="74.5" x2="413.5" y2="74.5" stroke="#EBEBEB" stroke-width="0.55"/>
<text x="294.5" y="77.1" text-anchor="end" font-size="6.7" fill="#505050">1.50</text>
<line x1="299.5" y1="43.8" x2="413.5" y2="43.8" stroke="#EBEBEB" stroke-width="0.55"/>
<text x="294.5" y="46.4" text-anchor="end" font-size="6.7" fill="#505050">1.75</text>
<line x1="303.05" y1="126" x2="303.05" y2="129.6" stroke="#E42D28" stroke-width="0.7" stroke-opacity="0.75"/>
<line x1="302.2" y1="126" x2="303.9" y2="126" stroke="#E42D28" stroke-width="0.6" stroke-opacity="0.8"/>
<line x1="302.2" y1="129.6" x2="303.9" y2="129.6" stroke="#E42D28" stroke-width="0.6" stroke-opacity="0.8"/>
<ellipse cx="303.05" cy="127.8" rx="1.1" ry="1.15" fill="#E42D28"/>
<line x1="309.71" y1="126" x2="309.71" y2="129.8" stroke="#B5232B" stroke-width="0.7" stroke-opacity="0.75"/>
<line x1="308.86" y1="126" x2="310.56" y2="126" stroke="#B5232B" stroke-width="0.6" stroke-opacity="0.8"/>
<line x1="308.86" y1="129.8" x2="310.56" y2="129.8" stroke="#B5232B" stroke-width="0.6" stroke-opacity="0.8"/>
<ellipse cx="309.71" cy="127.8" rx="1.1" ry="1.15" fill="#B5232B"/>
<line x1="316.37" y1="127.7" x2="316.37" y2="131.6" stroke="#7E1B24" stroke-width="0.7" stroke-opacity="0.75"/>
<line x1="315.52" y1="127.7" x2="317.22" y2="127.7" stroke="#7E1B24" stroke-width="0.6" stroke-opacity="0.8"/>
<line x1="315.52" y1="131.6" x2="317.22" y2="131.6" stroke="#7E1B24" stroke-width="0.6" stroke-opacity="0.8"/>
<ellipse cx="316.37" cy="129.7" rx="1.1" ry="1.15" fill="#7E1B24"/>
<line x1="323.03" y1="123" x2="323.03" y2="126.9" stroke="#B5224C" stroke-width="0.7" stroke-opacity="0.75"/>
<line x1="322.18" y1="123" x2="323.88" y2="123" stroke="#B5224C" stroke-width="0.6" stroke-opacity="0.8"/>
<line x1="322.18" y1="126.9" x2="323.88" y2="126.9" stroke="#B5224C" stroke-width="0.6" stroke-opacity="0.8"/>
<ellipse cx="323.03" cy="125" rx="1.1" ry="1.15" fill="#B5224C"/>
<line x1="329.69" y1="133.3" x2="329.69" y2="136.7" stroke="#ABABAB" stroke-width="0.7" stroke-opacity="0.75"/>
<line x1="328.84" y1="133.3" x2="330.54" y2="133.3" stroke="#ABABAB" stroke-width="0.6" stroke-opacity="0.8"/>
<line x1="328.84" y1="136.7" x2="330.54" y2="136.7" stroke="#ABABAB" stroke-width="0.6" stroke-opacity="0.8"/>
<ellipse cx="329.69" cy="134.9" rx="1.1" ry="1.15" fill="#ABABAB"/>
<line x1="336.35" y1="138.9" x2="336.35" y2="142.5" stroke="#A8DB9C" stroke-width="0.7" stroke-opacity="0.75"/>
<line x1="335.5" y1="138.9" x2="337.2" y2="138.9" stroke="#A8DB9C" stroke-width="0.6" stroke-opacity="0.8"/>
<line x1="335.5" y1="142.5" x2="337.2" y2="142.5" stroke="#A8DB9C" stroke-width="0.6" stroke-opacity="0.8"/>
<ellipse cx="336.35" cy="140.8" rx="1.1" ry="1.15" fill="#A8DB9C"/>
<line x1="343.01" y1="134.2" x2="343.01" y2="137.5" stroke="#ABABAB" stroke-width="0.7" stroke-opacity="0.75"/>
<line x1="342.16" y1="134.2" x2="343.86" y2="134.2" stroke="#ABABAB" stroke-width="0.6" stroke-opacity="0.8"/>
<line x1="342.16" y1="137.5" x2="343.86" y2="137.5" stroke="#ABABAB" stroke-width="0.6" stroke-opacity="0.8"/>
<ellipse cx="343.01" cy="135.8" rx="1.1" ry="1.15" fill="#ABABAB"/>
<line x1="349.67" y1="147.1" x2="349.67" y2="150.8" stroke="#D4A52D" stroke-width="0.7" stroke-opacity="0.75"/>
<line x1="348.82" y1="147.1" x2="350.52" y2="147.1" stroke="#D4A52D" stroke-width="0.6" stroke-opacity="0.8"/>
<line x1="348.82" y1="150.8" x2="350.52" y2="150.8" stroke="#D4A52D" stroke-width="0.6" stroke-opacity="0.8"/>
<ellipse cx="349.67" cy="148.7" rx="1.1" ry="1.15" fill="#D4A52D"/>
<line x1="356.33" y1="145.9" x2="356.33" y2="149.8" stroke="#E8DC48" stroke-width="0.7" stroke-opacity="0.75"/>
<line x1="355.48" y1="145.9" x2="357.18" y2="145.9" stroke="#E8DC48" stroke-width="0.6" stroke-opacity="0.8"/>
<line x1="355.48" y1="149.8" x2="357.18" y2="149.8" stroke="#E8DC48" stroke-width="0.6" stroke-opacity="0.8"/>
<ellipse cx="356.33" cy="147.8" rx="1.1" ry="1.15" fill="#E8DC48"/>
<line x1="362.99" y1="138.9" x2="362.99" y2="142.8" stroke="#E8B94A" stroke-width="0.7" stroke-opacity="0.75"/>
<line x1="362.14" y1="138.9" x2="363.84" y2="138.9" stroke="#E8B94A" stroke-width="0.6" stroke-opacity="0.8"/>
<line x1="362.14" y1="142.8" x2="363.84" y2="142.8" stroke="#E8B94A" stroke-width="0.6" stroke-opacity="0.8"/>
<ellipse cx="362.99" cy="140.8" rx="1.1" ry="1.15" fill="#E8B94A"/>
<line x1="369.65" y1="151.8" x2="369.65" y2="158" stroke="#F0EC70" stroke-width="0.7" stroke-opacity="0.75"/>
<line x1="368.8" y1="151.8" x2="370.5" y2="151.8" stroke="#F0EC70" stroke-width="0.6" stroke-opacity="0.8"/>
<line x1="368.8" y1="158" x2="370.5" y2="158" stroke="#F0EC70" stroke-width="0.6" stroke-opacity="0.8"/>
<ellipse cx="369.65" cy="155" rx="1.1" ry="1.15" fill="#F0EC70"/>
<line x1="376.31" y1="118.9" x2="376.31" y2="122.6" stroke="#DFB5DA" stroke-width="0.7" stroke-opacity="0.75"/>
<line x1="375.46" y1="118.9" x2="377.16" y2="118.9" stroke="#DFB5DA" stroke-width="0.6" stroke-opacity="0.8"/>
<line x1="375.46" y1="122.6" x2="377.16" y2="122.6" stroke="#DFB5DA" stroke-width="0.6" stroke-opacity="0.8"/>
<ellipse cx="376.31" cy="120.8" rx="1.1" ry="1.15" fill="#DFB5DA"/>
<line x1="382.97" y1="110.5" x2="382.97" y2="118.7" stroke="#9C8FB0" stroke-width="0.7" stroke-opacity="0.75"/>
<line x1="382.12" y1="110.5" x2="383.82" y2="110.5" stroke="#9C8FB0" stroke-width="0.6" stroke-opacity="0.8"/>
<line x1="382.12" y1="118.7" x2="383.82" y2="118.7" stroke="#9C8FB0" stroke-width="0.6" stroke-opacity="0.8"/>
<ellipse cx="382.97" cy="114.7" rx="1.1" ry="1.15" fill="#9C8FB0"/>
<line x1="389.63" y1="38.4" x2="389.63" y2="55.3" stroke="#958CAB" stroke-width="0.7" stroke-opacity="0.75"/>
<line x1="388.78" y1="38.4" x2="390.48" y2="38.4" stroke="#958CAB" stroke-width="0.6" stroke-opacity="0.8"/>
<line x1="388.78" y1="55.3" x2="390.48" y2="55.3" stroke="#958CAB" stroke-width="0.6" stroke-opacity="0.8"/>
<ellipse cx="389.63" cy="46.9" rx="1.1" ry="1.15" fill="#958CAB"/>
<line x1="396.29" y1="112.4" x2="396.29" y2="116.7" stroke="#A050AB" stroke-width="0.7" stroke-opacity="0.75"/>
<line x1="395.44" y1="112.4" x2="397.14" y2="112.4" stroke="#A050AB" stroke-width="0.6" stroke-opacity="0.8"/>
<line x1="395.44" y1="116.7" x2="397.14" y2="116.7" stroke="#A050AB" stroke-width="0.6" stroke-opacity="0.8"/>
<ellipse cx="396.29" cy="114.4" rx="1.1" ry="1.15" fill="#A050AB"/>
<line x1="402.95" y1="123.3" x2="402.95" y2="126.9" stroke="#CDBFDC" stroke-width="0.7" stroke-opacity="0.75"/>
<line x1="402.1" y1="123.3" x2="403.8" y2="123.3" stroke="#CDBFDC" stroke-width="0.6" stroke-opacity="0.8"/>
<line x1="402.1" y1="126.9" x2="403.8" y2="126.9" stroke="#CDBFDC" stroke-width="0.6" stroke-opacity="0.8"/>
<ellipse cx="402.95" cy="125" rx="1.1" ry="1.15" fill="#CDBFDC"/>
<line x1="409.61" y1="80.5" x2="409.61" y2="90.5" stroke="#7B3470" stroke-width="0.7" stroke-opacity="0.75"/>
<line x1="408.76" y1="80.5" x2="410.46" y2="80.5" stroke="#7B3470" stroke-width="0.6" stroke-opacity="0.8"/>
<line x1="408.76" y1="90.5" x2="410.46" y2="90.5" stroke="#7B3470" stroke-width="0.6" stroke-opacity="0.8"/>
<ellipse cx="409.61" cy="85.8" rx="1.1" ry="1.15" fill="#7B3470"/>
<line x1="299.5" y1="135.85" x2="413.5" y2="135.85" stroke="#4A72A8" stroke-opacity="0.65" stroke-width="1.1" stroke-dasharray="3.9 4.3" stroke-dashoffset="0.5"/>
<rect x="299.5" y="33.0" width="114.0" height="130.5" fill="none" stroke="#333333" stroke-width="1.1"/>
<text x="303.65" y="168.7" transform="rotate(-45 303.65 168.7)" text-anchor="end" dominant-baseline="hanging" font-size="5.8" fill="#3A3A3A">NOx</text>
<text x="310.31" y="168.7" transform="rotate(-45 310.31 168.7)" text-anchor="end" dominant-baseline="hanging" font-size="5.8" fill="#3A3A3A">NO2</text>
<text x="316.97" y="168.7" transform="rotate(-45 316.97 168.7)" text-anchor="end" dominant-baseline="hanging" font-size="5.8" fill="#3A3A3A">PM10</text>
<text x="323.63" y="168.7" transform="rotate(-45 323.63 168.7)" text-anchor="end" dominant-baseline="hanging" font-size="5.8" fill="#3A3A3A">PM2.5</text>
<text x="330.29" y="168.7" transform="rotate(-45 330.29 168.7)" text-anchor="end" dominant-baseline="hanging" font-size="5.8" fill="#3A3A3A">Noise</text>
<text x="336.95" y="168.7" transform="rotate(-45 336.95 168.7)" text-anchor="end" dominant-baseline="hanging" font-size="5.8" fill="#3A3A3A">Green space</text>
<text x="343.61" y="168.7" transform="rotate(-45 343.61 168.7)" text-anchor="end" dominant-baseline="hanging" font-size="5.8" fill="#3A3A3A">Blue space</text>
<text x="350.27" y="168.7" transform="rotate(-45 350.27 168.7)" text-anchor="end" dominant-baseline="hanging" font-size="5.8" fill="#3A3A3A">Diet</text>
<text x="356.93" y="168.7" transform="rotate(-45 356.93 168.7)" text-anchor="end" dominant-baseline="hanging" font-size="5.8" fill="#3A3A3A">Leisure PA</text>
<text x="363.59" y="168.7" transform="rotate(-45 363.59 168.7)" text-anchor="end" dominant-baseline="hanging" font-size="5.8" fill="#3A3A3A">Total PA</text>
<text x="370.25" y="168.7" transform="rotate(-45 370.25 168.7)" text-anchor="end" dominant-baseline="hanging" font-size="5.8" fill="#3A3A3A">Sleep duration</text>
<text x="376.91" y="168.7" transform="rotate(-45 376.91 168.7)" text-anchor="end" dominant-baseline="hanging" font-size="5.8" fill="#3A3A3A">Sedentary behavior</text>
<text x="383.57" y="168.7" transform="rotate(-45 383.57 168.7)" text-anchor="end" dominant-baseline="hanging" font-size="5.8" fill="#3A3A3A">Previous Smoke</text>
<text x="390.23" y="168.7" transform="rotate(-45 390.23 168.7)" text-anchor="end" dominant-baseline="hanging" font-size="5.8" fill="#3A3A3A">Current Smoke</text>
<text x="396.89" y="168.7" transform="rotate(-45 396.89 168.7)" text-anchor="end" dominant-baseline="hanging" font-size="5.8" fill="#3A3A3A">IMD scores</text>
<text x="403.55" y="168.7" transform="rotate(-45 403.55 168.7)" text-anchor="end" dominant-baseline="hanging" font-size="5.8" fill="#3A3A3A">Social isolation</text>
<text x="410.21" y="168.7" transform="rotate(-45 410.21 168.7)" text-anchor="end" dominant-baseline="hanging" font-size="5.8" fill="#3A3A3A">Depression/anxiety</text>
<text x="356.15" y="243.4" text-anchor="middle" font-weight="bold" font-size="7.5" fill="#000">Renal Disease</text>
<line x1="302.95" y1="250.6" x2="302.95" y2="381.5" stroke="#EBEBEB" stroke-width="0.55"/>
<line x1="309.59" y1="250.6" x2="309.59" y2="381.5" stroke="#EBEBEB" stroke-width="0.55"/>
<line x1="316.24" y1="250.6" x2="316.24" y2="381.5" stroke="#EBEBEB" stroke-width="0.55"/>
<line x1="322.88" y1="250.6" x2="322.88" y2="381.5" stroke="#EBEBEB" stroke-width="0.55"/>
<line x1="329.53" y1="250.6" x2="329.53" y2="381.5" stroke="#EBEBEB" stroke-width="0.55"/>
<line x1="336.17" y1="250.6" x2="336.17" y2="381.5" stroke="#EBEBEB" stroke-width="0.55"/>
<line x1="342.82" y1="250.6" x2="342.82" y2="381.5" stroke="#EBEBEB" stroke-width="0.55"/>
<line x1="349.46" y1="250.6" x2="349.46" y2="381.5" stroke="#EBEBEB" stroke-width="0.55"/>
<line x1="356.11" y1="250.6" x2="356.11" y2="381.5" stroke="#EBEBEB" stroke-width="0.55"/>
<line x1="362.75" y1="250.6" x2="362.75" y2="381.5" stroke="#EBEBEB" stroke-width="0.55"/>
<line x1="369.4" y1="250.6" x2="369.4" y2="381.5" stroke="#EBEBEB" stroke-width="0.55"/>
<line x1="376.04" y1="250.6" x2="376.04" y2="381.5" stroke="#EBEBEB" stroke-width="0.55"/>
<line x1="382.69" y1="250.6" x2="382.69" y2="381.5" stroke="#EBEBEB" stroke-width="0.55"/>
<line x1="389.33" y1="250.6" x2="389.33" y2="381.5" stroke="#EBEBEB" stroke-width="0.55"/>
<line x1="395.98" y1="250.6" x2="395.98" y2="381.5" stroke="#EBEBEB" stroke-width="0.55"/>
<line x1="402.62" y1="250.6" x2="402.62" y2="381.5" stroke="#EBEBEB" stroke-width="0.55"/>
<line x1="409.27" y1="250.6" x2="409.27" y2="381.5" stroke="#EBEBEB" stroke-width="0.55"/>
<line x1="299.2" y1="375.7" x2="413.1" y2="375.7" stroke="#EBEBEB" stroke-width="0.55"/>
<text x="294.2" y="378.3" text-anchor="end" font-size="6.7" fill="#505050">0.00</text>
<line x1="299.2" y1="344" x2="413.1" y2="344" stroke="#EBEBEB" stroke-width="0.55"/>
<text x="294.2" y="346.6" text-anchor="end" font-size="6.7" fill="#505050">0.02</text>
<line x1="299.2" y1="312.3" x2="413.1" y2="312.3" stroke="#EBEBEB" stroke-width="0.55"/>
<text x="294.2" y="314.9" text-anchor="end" font-size="6.7" fill="#505050">0.05</text>
<line x1="299.2" y1="280.6" x2="413.1" y2="280.6" stroke="#EBEBEB" stroke-width="0.55"/>
<text x="294.2" y="283.2" text-anchor="end" font-size="6.7" fill="#505050">0.08</text>
<rect x="300.1" y="336.5" width="5.7" height="39.2" fill="#E42D28"/>
<rect x="306.74" y="313.5" width="5.7" height="62.2" fill="#B5232B"/>
<rect x="313.39" y="354.7" width="5.7" height="21" fill="#7E1B24"/>
<rect x="320.03" y="342.9" width="5.7" height="32.8" fill="#B5224C"/>
<rect x="326.68" y="360.2" width="5.7" height="15.5" fill="#E95A35"/>
<rect x="333.32" y="351.8" width="5.7" height="23.9" fill="#A8DB9C"/>
<rect x="339.97" y="359.6" width="5.7" height="16.1" fill="#3A9A6E"/>
<rect x="346.61" y="314" width="5.7" height="61.7" fill="#D4A52D"/>
<rect x="353.26" y="294.7" width="5.7" height="81" fill="#E8DC48"/>
<rect x="359.9" y="343.7" width="5.7" height="32" fill="#E8B94A"/>
<rect x="366.55" y="311.4" width="5.7" height="64.3" fill="#F0EC70"/>
<rect x="373.19" y="288.9" width="5.7" height="86.8" fill="#DFB5DA"/>
<rect x="379.84" y="332.2" width="5.7" height="43.5" fill="#9C8FB0"/>
<rect x="386.48" y="304.8" width="5.7" height="70.9" fill="#958CAB"/>
<rect x="393.13" y="255.8" width="5.7" height="119.9" fill="#A050AB"/>
<rect x="399.77" y="348.1" width="5.7" height="27.6" fill="#CDBFDC"/>
<rect x="406.42" y="275.4" width="5.7" height="100.3" fill="#7B3470"/>
<rect x="299.2" y="250.6" width="113.9" height="130.9" fill="none" stroke="#333333" stroke-width="1.1"/>
<text x="303.55" y="386.7" transform="rotate(-45 303.55 386.7)" text-anchor="end" dominant-baseline="hanging" font-size="5.8" fill="#3A3A3A">NOx</text>
<text x="310.19" y="386.7" transform="rotate(-45 310.19 386.7)" text-anchor="end" dominant-baseline="hanging" font-size="5.8" fill="#3A3A3A">NO2</text>
<text x="316.84" y="386.7" transform="rotate(-45 316.84 386.7)" text-anchor="end" dominant-baseline="hanging" font-size="5.8" fill="#3A3A3A">PM10</text>
<text x="323.49" y="386.7" transform="rotate(-45 323.49 386.7)" text-anchor="end" dominant-baseline="hanging" font-size="5.8" fill="#3A3A3A">PM2.5</text>
<text x="330.13" y="386.7" transform="rotate(-45 330.13 386.7)" text-anchor="end" dominant-baseline="hanging" font-size="5.8" fill="#3A3A3A">Noise</text>
<text x="336.77" y="386.7" transform="rotate(-45 336.77 386.7)" text-anchor="end" dominant-baseline="hanging" font-size="5.8" fill="#3A3A3A">Green space</text>
<text x="343.42" y="386.7" transform="rotate(-45 343.42 386.7)" text-anchor="end" dominant-baseline="hanging" font-size="5.8" fill="#3A3A3A">Blue space</text>
<text x="350.06" y="386.7" transform="rotate(-45 350.06 386.7)" text-anchor="end" dominant-baseline="hanging" font-size="5.8" fill="#3A3A3A">Diet</text>
<text x="356.71" y="386.7" transform="rotate(-45 356.71 386.7)" text-anchor="end" dominant-baseline="hanging" font-size="5.8" fill="#3A3A3A">Leisure PA</text>
<text x="363.36" y="386.7" transform="rotate(-45 363.36 386.7)" text-anchor="end" dominant-baseline="hanging" font-size="5.8" fill="#3A3A3A">Total PA</text>
<text x="370" y="386.7" transform="rotate(-45 370 386.7)" text-anchor="end" dominant-baseline="hanging" font-size="5.8" fill="#3A3A3A">Sleep duration</text>
<text x="376.64" y="386.7" transform="rotate(-45 376.64 386.7)" text-anchor="end" dominant-baseline="hanging" font-size="5.8" fill="#3A3A3A">Sedentary behavior</text>
<text x="383.29" y="386.7" transform="rotate(-45 383.29 386.7)" text-anchor="end" dominant-baseline="hanging" font-size="5.8" fill="#3A3A3A">Previous Smoke</text>
<text x="389.94" y="386.7" transform="rotate(-45 389.94 386.7)" text-anchor="end" dominant-baseline="hanging" font-size="5.8" fill="#3A3A3A">Current Smoke</text>
<text x="396.58" y="386.7" transform="rotate(-45 396.58 386.7)" text-anchor="end" dominant-baseline="hanging" font-size="5.8" fill="#3A3A3A">IMD scores</text>
<text x="403.23" y="386.7" transform="rotate(-45 403.23 386.7)" text-anchor="end" dominant-baseline="hanging" font-size="5.8" fill="#3A3A3A">Social isolation</text>
<text x="409.87" y="386.7" transform="rotate(-45 409.87 386.7)" text-anchor="end" dominant-baseline="hanging" font-size="5.8" fill="#3A3A3A">Depression/anxiety</text>
<text x="491.5" y="25.7" text-anchor="middle" font-weight="bold" font-size="7.5" fill="#000">Diabetes</text>
<line x1="438.05" y1="33.0" x2="438.05" y2="163.5" stroke="#EBEBEB" stroke-width="0.55"/>
<line x1="444.71" y1="33.0" x2="444.71" y2="163.5" stroke="#EBEBEB" stroke-width="0.55"/>
<line x1="451.37" y1="33.0" x2="451.37" y2="163.5" stroke="#EBEBEB" stroke-width="0.55"/>
<line x1="458.03" y1="33.0" x2="458.03" y2="163.5" stroke="#EBEBEB" stroke-width="0.55"/>
<line x1="464.69" y1="33.0" x2="464.69" y2="163.5" stroke="#EBEBEB" stroke-width="0.55"/>
<line x1="471.35" y1="33.0" x2="471.35" y2="163.5" stroke="#EBEBEB" stroke-width="0.55"/>
<line x1="478.01" y1="33.0" x2="478.01" y2="163.5" stroke="#EBEBEB" stroke-width="0.55"/>
<line x1="484.67" y1="33.0" x2="484.67" y2="163.5" stroke="#EBEBEB" stroke-width="0.55"/>
<line x1="491.33" y1="33.0" x2="491.33" y2="163.5" stroke="#EBEBEB" stroke-width="0.55"/>
<line x1="497.99" y1="33.0" x2="497.99" y2="163.5" stroke="#EBEBEB" stroke-width="0.55"/>
<line x1="504.65" y1="33.0" x2="504.65" y2="163.5" stroke="#EBEBEB" stroke-width="0.55"/>
<line x1="511.31" y1="33.0" x2="511.31" y2="163.5" stroke="#EBEBEB" stroke-width="0.55"/>
<line x1="517.97" y1="33.0" x2="517.97" y2="163.5" stroke="#EBEBEB" stroke-width="0.55"/>
<line x1="524.63" y1="33.0" x2="524.63" y2="163.5" stroke="#EBEBEB" stroke-width="0.55"/>
<line x1="531.29" y1="33.0" x2="531.29" y2="163.5" stroke="#EBEBEB" stroke-width="0.55"/>
<line x1="537.95" y1="33.0" x2="537.95" y2="163.5" stroke="#EBEBEB" stroke-width="0.55"/>
<line x1="544.61" y1="33.0" x2="544.61" y2="163.5" stroke="#EBEBEB" stroke-width="0.55"/>
<line x1="434.5" y1="157.2" x2="548.5" y2="157.2" stroke="#EBEBEB" stroke-width="0.55"/>
<text x="429.5" y="159.8" text-anchor="end" font-size="6.7" fill="#505050">0.80</text>
<line x1="434.5" y1="118.8" x2="548.5" y2="118.8" stroke="#EBEBEB" stroke-width="0.55"/>
<text x="429.5" y="121.4" text-anchor="end" font-size="6.7" fill="#505050">1.20</text>
<line x1="434.5" y1="80.4" x2="548.5" y2="80.4" stroke="#EBEBEB" stroke-width="0.55"/>
<text x="429.5" y="83" text-anchor="end" font-size="6.7" fill="#505050">1.60</text>
<line x1="434.5" y1="42" x2="548.5" y2="42" stroke="#EBEBEB" stroke-width="0.55"/>
<text x="429.5" y="44.6" text-anchor="end" font-size="6.7" fill="#505050">2.00</text>
<line x1="438.05" y1="127.5" x2="438.05" y2="131.6" stroke="#E42D28" stroke-width="0.7" stroke-opacity="0.75"/>
<line x1="437.2" y1="127.5" x2="438.9" y2="127.5" stroke="#E42D28" stroke-width="0.6" stroke-opacity="0.8"/>
<line x1="437.2" y1="131.6" x2="438.9" y2="131.6" stroke="#E42D28" stroke-width="0.6" stroke-opacity="0.8"/>
<ellipse cx="438.05" cy="129.4" rx="1.1" ry="1.15" fill="#E42D28"/>
<line x1="444.71" y1="126.9" x2="444.71" y2="130.9" stroke="#B5232B" stroke-width="0.7" stroke-opacity="0.75"/>
<line x1="443.86" y1="126.9" x2="445.56" y2="126.9" stroke="#B5232B" stroke-width="0.6" stroke-opacity="0.8"/>
<line x1="443.86" y1="130.9" x2="445.56" y2="130.9" stroke="#B5232B" stroke-width="0.6" stroke-opacity="0.8"/>
<ellipse cx="444.71" cy="128.8" rx="1.1" ry="1.15" fill="#B5232B"/>
<line x1="451.37" y1="131.8" x2="451.37" y2="135.7" stroke="#7E1B24" stroke-width="0.7" stroke-opacity="0.75"/>
<line x1="450.52" y1="131.8" x2="452.22" y2="131.8" stroke="#7E1B24" stroke-width="0.6" stroke-opacity="0.8"/>
<line x1="450.52" y1="135.7" x2="452.22" y2="135.7" stroke="#7E1B24" stroke-width="0.6" stroke-opacity="0.8"/>
<ellipse cx="451.37" cy="133.8" rx="1.1" ry="1.15" fill="#7E1B24"/>
<line x1="458.03" y1="125.1" x2="458.03" y2="128.9" stroke="#B5224C" stroke-width="0.7" stroke-opacity="0.75"/>
<line x1="457.18" y1="125.1" x2="458.88" y2="125.1" stroke="#B5224C" stroke-width="0.6" stroke-opacity="0.8"/>
<line x1="457.18" y1="128.9" x2="458.88" y2="128.9" stroke="#B5224C" stroke-width="0.6" stroke-opacity="0.8"/>
<ellipse cx="458.03" cy="127" rx="1.1" ry="1.15" fill="#B5224C"/>
<line x1="464.69" y1="135" x2="464.69" y2="138.7" stroke="#ABABAB" stroke-width="0.7" stroke-opacity="0.75"/>
<line x1="463.84" y1="135" x2="465.54" y2="135" stroke="#ABABAB" stroke-width="0.6" stroke-opacity="0.8"/>
<line x1="463.84" y1="138.7" x2="465.54" y2="138.7" stroke="#ABABAB" stroke-width="0.6" stroke-opacity="0.8"/>
<ellipse cx="464.69" cy="136.8" rx="1.1" ry="1.15" fill="#ABABAB"/>
<line x1="471.35" y1="142.7" x2="471.35" y2="146.9" stroke="#A8DB9C" stroke-width="0.7" stroke-opacity="0.75"/>
<line x1="470.5" y1="142.7" x2="472.2" y2="142.7" stroke="#A8DB9C" stroke-width="0.6" stroke-opacity="0.8"/>
<line x1="470.5" y1="146.9" x2="472.2" y2="146.9" stroke="#A8DB9C" stroke-width="0.6" stroke-opacity="0.8"/>
<ellipse cx="471.35" cy="144.6" rx="1.1" ry="1.15" fill="#A8DB9C"/>
<line x1="478.01" y1="138.1" x2="478.01" y2="141.6" stroke="#ABABAB" stroke-width="0.7" stroke-opacity="0.75"/>
<line x1="477.16" y1="138.1" x2="478.86" y2="138.1" stroke="#ABABAB" stroke-width="0.6" stroke-opacity="0.8"/>
<line x1="477.16" y1="141.6" x2="478.86" y2="141.6" stroke="#ABABAB" stroke-width="0.6" stroke-opacity="0.8"/>
<ellipse cx="478.01" cy="140" rx="1.1" ry="1.15" fill="#ABABAB"/>
<line x1="484.67" y1="148.3" x2="484.67" y2="152.4" stroke="#D4A52D" stroke-width="0.7" stroke-opacity="0.75"/>
<line x1="483.82" y1="148.3" x2="485.52" y2="148.3" stroke="#D4A52D" stroke-width="0.6" stroke-opacity="0.8"/>
<line x1="483.82" y1="152.4" x2="485.52" y2="152.4" stroke="#D4A52D" stroke-width="0.6" stroke-opacity="0.8"/>
<ellipse cx="484.67" cy="150.5" rx="1.1" ry="1.15" fill="#D4A52D"/>
<line x1="491.33" y1="150" x2="491.33" y2="155.1" stroke="#E8DC48" stroke-width="0.7" stroke-opacity="0.75"/>
<line x1="490.48" y1="150" x2="492.18" y2="150" stroke="#E8DC48" stroke-width="0.6" stroke-opacity="0.8"/>
<line x1="490.48" y1="155.1" x2="492.18" y2="155.1" stroke="#E8DC48" stroke-width="0.6" stroke-opacity="0.8"/>
<ellipse cx="491.33" cy="152.5" rx="1.1" ry="1.15" fill="#E8DC48"/>
<line x1="497.99" y1="139.2" x2="497.99" y2="143.1" stroke="#E8B94A" stroke-width="0.7" stroke-opacity="0.75"/>
<line x1="497.14" y1="139.2" x2="498.84" y2="139.2" stroke="#E8B94A" stroke-width="0.6" stroke-opacity="0.8"/>
<line x1="497.14" y1="143.1" x2="498.84" y2="143.1" stroke="#E8B94A" stroke-width="0.6" stroke-opacity="0.8"/>
<ellipse cx="497.99" cy="141.1" rx="1.1" ry="1.15" fill="#E8B94A"/>
<line x1="504.65" y1="151.8" x2="504.65" y2="158" stroke="#F0EC70" stroke-width="0.7" stroke-opacity="0.75"/>
<line x1="503.8" y1="151.8" x2="505.5" y2="151.8" stroke="#F0EC70" stroke-width="0.6" stroke-opacity="0.8"/>
<line x1="503.8" y1="158" x2="505.5" y2="158" stroke="#F0EC70" stroke-width="0.6" stroke-opacity="0.8"/>
<ellipse cx="504.65" cy="154.6" rx="1.1" ry="1.15" fill="#F0EC70"/>
<line x1="511.31" y1="124.8" x2="511.31" y2="128.5" stroke="#DFB5DA" stroke-width="0.7" stroke-opacity="0.75"/>
<line x1="510.46" y1="124.8" x2="512.16" y2="124.8" stroke="#DFB5DA" stroke-width="0.6" stroke-opacity="0.8"/>
<line x1="510.46" y1="128.5" x2="512.16" y2="128.5" stroke="#DFB5DA" stroke-width="0.6" stroke-opacity="0.8"/>
<ellipse cx="511.31" cy="126.4" rx="1.1" ry="1.15" fill="#DFB5DA"/>
<line x1="517.97" y1="108.4" x2="517.97" y2="117.4" stroke="#9C8FB0" stroke-width="0.7" stroke-opacity="0.75"/>
<line x1="517.12" y1="108.4" x2="518.82" y2="108.4" stroke="#9C8FB0" stroke-width="0.6" stroke-opacity="0.8"/>
<line x1="517.12" y1="117.4" x2="518.82" y2="117.4" stroke="#9C8FB0" stroke-width="0.6" stroke-opacity="0.8"/>
<ellipse cx="517.97" cy="112.7" rx="1.1" ry="1.15" fill="#9C8FB0"/>
<line x1="524.63" y1="38.4" x2="524.63" y2="57.4" stroke="#958CAB" stroke-width="0.7" stroke-opacity="0.75"/>
<line x1="523.78" y1="38.4" x2="525.48" y2="38.4" stroke="#958CAB" stroke-width="0.6" stroke-opacity="0.8"/>
<line x1="523.78" y1="57.4" x2="525.48" y2="57.4" stroke="#958CAB" stroke-width="0.6" stroke-opacity="0.8"/>
<ellipse cx="524.63" cy="48.3" rx="1.1" ry="1.15" fill="#958CAB"/>
<line x1="531.29" y1="116.6" x2="531.29" y2="121.1" stroke="#A050AB" stroke-width="0.7" stroke-opacity="0.75"/>
<line x1="530.44" y1="116.6" x2="532.14" y2="116.6" stroke="#A050AB" stroke-width="0.6" stroke-opacity="0.8"/>
<line x1="530.44" y1="121.1" x2="532.14" y2="121.1" stroke="#A050AB" stroke-width="0.6" stroke-opacity="0.8"/>
<ellipse cx="531.29" cy="118.8" rx="1.1" ry="1.15" fill="#A050AB"/>
<line x1="537.95" y1="127.7" x2="537.95" y2="131.6" stroke="#CDBFDC" stroke-width="0.7" stroke-opacity="0.75"/>
<line x1="537.1" y1="127.7" x2="538.8" y2="127.7" stroke="#CDBFDC" stroke-width="0.6" stroke-opacity="0.8"/>
<line x1="537.1" y1="131.6" x2="538.8" y2="131.6" stroke="#CDBFDC" stroke-width="0.6" stroke-opacity="0.8"/>
<ellipse cx="537.95" cy="129.7" rx="1.1" ry="1.15" fill="#CDBFDC"/>
<line x1="544.61" y1="84.5" x2="544.61" y2="95.3" stroke="#7B3470" stroke-width="0.7" stroke-opacity="0.75"/>
<line x1="543.76" y1="84.5" x2="545.46" y2="84.5" stroke="#7B3470" stroke-width="0.6" stroke-opacity="0.8"/>
<line x1="543.76" y1="95.3" x2="545.46" y2="95.3" stroke="#7B3470" stroke-width="0.6" stroke-opacity="0.8"/>
<ellipse cx="544.61" cy="90" rx="1.1" ry="1.15" fill="#7B3470"/>
<line x1="434.5" y1="138.2" x2="548.5" y2="138.2" stroke="#4A72A8" stroke-opacity="0.65" stroke-width="1.1" stroke-dasharray="3.9 4.3" stroke-dashoffset="0.5"/>
<rect x="434.5" y="33.0" width="114.0" height="130.5" fill="none" stroke="#333333" stroke-width="1.1"/>
<text x="438.65" y="168.7" transform="rotate(-45 438.65 168.7)" text-anchor="end" dominant-baseline="hanging" font-size="5.8" fill="#3A3A3A">NOx</text>
<text x="445.31" y="168.7" transform="rotate(-45 445.31 168.7)" text-anchor="end" dominant-baseline="hanging" font-size="5.8" fill="#3A3A3A">NO2</text>
<text x="451.97" y="168.7" transform="rotate(-45 451.97 168.7)" text-anchor="end" dominant-baseline="hanging" font-size="5.8" fill="#3A3A3A">PM10</text>
<text x="458.63" y="168.7" transform="rotate(-45 458.63 168.7)" text-anchor="end" dominant-baseline="hanging" font-size="5.8" fill="#3A3A3A">PM2.5</text>
<text x="465.29" y="168.7" transform="rotate(-45 465.29 168.7)" text-anchor="end" dominant-baseline="hanging" font-size="5.8" fill="#3A3A3A">Noise</text>
<text x="471.95" y="168.7" transform="rotate(-45 471.95 168.7)" text-anchor="end" dominant-baseline="hanging" font-size="5.8" fill="#3A3A3A">Green space</text>
<text x="478.61" y="168.7" transform="rotate(-45 478.61 168.7)" text-anchor="end" dominant-baseline="hanging" font-size="5.8" fill="#3A3A3A">Blue space</text>
<text x="485.27" y="168.7" transform="rotate(-45 485.27 168.7)" text-anchor="end" dominant-baseline="hanging" font-size="5.8" fill="#3A3A3A">Diet</text>
<text x="491.93" y="168.7" transform="rotate(-45 491.93 168.7)" text-anchor="end" dominant-baseline="hanging" font-size="5.8" fill="#3A3A3A">Leisure PA</text>
<text x="498.59" y="168.7" transform="rotate(-45 498.59 168.7)" text-anchor="end" dominant-baseline="hanging" font-size="5.8" fill="#3A3A3A">Total PA</text>
<text x="505.25" y="168.7" transform="rotate(-45 505.25 168.7)" text-anchor="end" dominant-baseline="hanging" font-size="5.8" fill="#3A3A3A">Sleep duration</text>
<text x="511.91" y="168.7" transform="rotate(-45 511.91 168.7)" text-anchor="end" dominant-baseline="hanging" font-size="5.8" fill="#3A3A3A">Sedentary behavior</text>
<text x="518.57" y="168.7" transform="rotate(-45 518.57 168.7)" text-anchor="end" dominant-baseline="hanging" font-size="5.8" fill="#3A3A3A">Previous Smoke</text>
<text x="525.23" y="168.7" transform="rotate(-45 525.23 168.7)" text-anchor="end" dominant-baseline="hanging" font-size="5.8" fill="#3A3A3A">Current Smoke</text>
<text x="531.89" y="168.7" transform="rotate(-45 531.89 168.7)" text-anchor="end" dominant-baseline="hanging" font-size="5.8" fill="#3A3A3A">IMD scores</text>
<text x="538.55" y="168.7" transform="rotate(-45 538.55 168.7)" text-anchor="end" dominant-baseline="hanging" font-size="5.8" fill="#3A3A3A">Social isolation</text>
<text x="545.21" y="168.7" transform="rotate(-45 545.21 168.7)" text-anchor="end" dominant-baseline="hanging" font-size="5.8" fill="#3A3A3A">Depression/anxiety</text>
<text x="491.25" y="243.4" text-anchor="middle" font-weight="bold" font-size="7.5" fill="#000">Diabetes</text>
<line x1="438.05" y1="250.6" x2="438.05" y2="381.5" stroke="#EBEBEB" stroke-width="0.55"/>
<line x1="444.69" y1="250.6" x2="444.69" y2="381.5" stroke="#EBEBEB" stroke-width="0.55"/>
<line x1="451.34" y1="250.6" x2="451.34" y2="381.5" stroke="#EBEBEB" stroke-width="0.55"/>
<line x1="457.98" y1="250.6" x2="457.98" y2="381.5" stroke="#EBEBEB" stroke-width="0.55"/>
<line x1="464.63" y1="250.6" x2="464.63" y2="381.5" stroke="#EBEBEB" stroke-width="0.55"/>
<line x1="471.27" y1="250.6" x2="471.27" y2="381.5" stroke="#EBEBEB" stroke-width="0.55"/>
<line x1="477.92" y1="250.6" x2="477.92" y2="381.5" stroke="#EBEBEB" stroke-width="0.55"/>
<line x1="484.56" y1="250.6" x2="484.56" y2="381.5" stroke="#EBEBEB" stroke-width="0.55"/>
<line x1="491.21" y1="250.6" x2="491.21" y2="381.5" stroke="#EBEBEB" stroke-width="0.55"/>
<line x1="497.85" y1="250.6" x2="497.85" y2="381.5" stroke="#EBEBEB" stroke-width="0.55"/>
<line x1="504.5" y1="250.6" x2="504.5" y2="381.5" stroke="#EBEBEB" stroke-width="0.55"/>
<line x1="511.14" y1="250.6" x2="511.14" y2="381.5" stroke="#EBEBEB" stroke-width="0.55"/>
<line x1="517.79" y1="250.6" x2="517.79" y2="381.5" stroke="#EBEBEB" stroke-width="0.55"/>
<line x1="524.43" y1="250.6" x2="524.43" y2="381.5" stroke="#EBEBEB" stroke-width="0.55"/>
<line x1="531.08" y1="250.6" x2="531.08" y2="381.5" stroke="#EBEBEB" stroke-width="0.55"/>
<line x1="537.72" y1="250.6" x2="537.72" y2="381.5" stroke="#EBEBEB" stroke-width="0.55"/>
<line x1="544.37" y1="250.6" x2="544.37" y2="381.5" stroke="#EBEBEB" stroke-width="0.55"/>
<line x1="434.29999999999995" y1="375.7" x2="548.2" y2="375.7" stroke="#EBEBEB" stroke-width="0.55"/>
<text x="429.3" y="378.3" text-anchor="end" font-size="6.7" fill="#505050">0.00</text>
<line x1="434.29999999999995" y1="343.99" x2="548.2" y2="343.99" stroke="#EBEBEB" stroke-width="0.55"/>
<text x="429.3" y="346.59" text-anchor="end" font-size="6.7" fill="#505050">0.03</text>
<line x1="434.29999999999995" y1="312.28" x2="548.2" y2="312.28" stroke="#EBEBEB" stroke-width="0.55"/>
<text x="429.3" y="314.88" text-anchor="end" font-size="6.7" fill="#505050">0.06</text>
<line x1="434.29999999999995" y1="280.57" x2="548.2" y2="280.57" stroke="#EBEBEB" stroke-width="0.55"/>
<text x="429.3" y="283.17" text-anchor="end" font-size="6.7" fill="#505050">0.09</text>
<rect x="435.2" y="341.7" width="5.7" height="34" fill="#E42D28"/>
<rect x="441.84" y="315.8" width="5.7" height="59.9" fill="#B5232B"/>
<rect x="448.49" y="344.3" width="5.7" height="31.4" fill="#7E1B24"/>
<rect x="455.13" y="333.1" width="5.7" height="42.6" fill="#B5224C"/>
<rect x="461.78" y="356.1" width="5.7" height="19.6" fill="#E95A35"/>
<rect x="468.42" y="345.2" width="5.7" height="30.5" fill="#A8DB9C"/>
<rect x="475.07" y="348.1" width="5.7" height="27.6" fill="#3A9A6E"/>
<rect x="481.71" y="316.3" width="5.7" height="59.4" fill="#D4A52D"/>
<rect x="488.36" y="273.1" width="5.7" height="102.6" fill="#E8DC48"/>
<rect x="495" y="338.8" width="5.7" height="36.9" fill="#E8B94A"/>
<rect x="501.65" y="327" width="5.7" height="48.7" fill="#F0EC70"/>
<rect x="508.29" y="307.1" width="5.7" height="68.6" fill="#DFB5DA"/>
<rect x="514.94" y="321.5" width="5.7" height="54.2" fill="#9C8FB0"/>
<rect x="521.58" y="295.6" width="5.7" height="80.1" fill="#958CAB"/>
<rect x="528.23" y="255.8" width="5.7" height="119.9" fill="#A050AB"/>
<rect x="534.87" y="356.7" width="5.7" height="19" fill="#CDBFDC"/>
<rect x="541.52" y="266.4" width="5.7" height="109.3" fill="#7B3470"/>
<rect x="434.29999999999995" y="250.6" width="113.9" height="130.9" fill="none" stroke="#333333" stroke-width="1.1"/>
<text x="438.65" y="386.7" transform="rotate(-45 438.65 386.7)" text-anchor="end" dominant-baseline="hanging" font-size="5.8" fill="#3A3A3A">NOx</text>
<text x="445.29" y="386.7" transform="rotate(-45 445.29 386.7)" text-anchor="end" dominant-baseline="hanging" font-size="5.8" fill="#3A3A3A">NO2</text>
<text x="451.94" y="386.7" transform="rotate(-45 451.94 386.7)" text-anchor="end" dominant-baseline="hanging" font-size="5.8" fill="#3A3A3A">PM10</text>
<text x="458.58" y="386.7" transform="rotate(-45 458.58 386.7)" text-anchor="end" dominant-baseline="hanging" font-size="5.8" fill="#3A3A3A">PM2.5</text>
<text x="465.23" y="386.7" transform="rotate(-45 465.23 386.7)" text-anchor="end" dominant-baseline="hanging" font-size="5.8" fill="#3A3A3A">Noise</text>
<text x="471.88" y="386.7" transform="rotate(-45 471.88 386.7)" text-anchor="end" dominant-baseline="hanging" font-size="5.8" fill="#3A3A3A">Green space</text>
<text x="478.52" y="386.7" transform="rotate(-45 478.52 386.7)" text-anchor="end" dominant-baseline="hanging" font-size="5.8" fill="#3A3A3A">Blue space</text>
<text x="485.16" y="386.7" transform="rotate(-45 485.16 386.7)" text-anchor="end" dominant-baseline="hanging" font-size="5.8" fill="#3A3A3A">Diet</text>
<text x="491.81" y="386.7" transform="rotate(-45 491.81 386.7)" text-anchor="end" dominant-baseline="hanging" font-size="5.8" fill="#3A3A3A">Leisure PA</text>
<text x="498.45" y="386.7" transform="rotate(-45 498.45 386.7)" text-anchor="end" dominant-baseline="hanging" font-size="5.8" fill="#3A3A3A">Total PA</text>
<text x="505.1" y="386.7" transform="rotate(-45 505.1 386.7)" text-anchor="end" dominant-baseline="hanging" font-size="5.8" fill="#3A3A3A">Sleep duration</text>
<text x="511.75" y="386.7" transform="rotate(-45 511.75 386.7)" text-anchor="end" dominant-baseline="hanging" font-size="5.8" fill="#3A3A3A">Sedentary behavior</text>
<text x="518.39" y="386.7" transform="rotate(-45 518.39 386.7)" text-anchor="end" dominant-baseline="hanging" font-size="5.8" fill="#3A3A3A">Previous Smoke</text>
<text x="525.03" y="386.7" transform="rotate(-45 525.03 386.7)" text-anchor="end" dominant-baseline="hanging" font-size="5.8" fill="#3A3A3A">Current Smoke</text>
<text x="531.68" y="386.7" transform="rotate(-45 531.68 386.7)" text-anchor="end" dominant-baseline="hanging" font-size="5.8" fill="#3A3A3A">IMD scores</text>
<text x="538.32" y="386.7" transform="rotate(-45 538.32 386.7)" text-anchor="end" dominant-baseline="hanging" font-size="5.8" fill="#3A3A3A">Social isolation</text>
<text x="544.97" y="386.7" transform="rotate(-45 544.97 386.7)" text-anchor="end" dominant-baseline="hanging" font-size="5.8" fill="#3A3A3A">Depression/anxiety</text>
<text x="626.5" y="25.7" text-anchor="middle" font-weight="bold" font-size="7.5" fill="#000">Death</text>
<line x1="573.05" y1="33.0" x2="573.05" y2="163.5" stroke="#EBEBEB" stroke-width="0.55"/>
<line x1="579.71" y1="33.0" x2="579.71" y2="163.5" stroke="#EBEBEB" stroke-width="0.55"/>
<line x1="586.37" y1="33.0" x2="586.37" y2="163.5" stroke="#EBEBEB" stroke-width="0.55"/>
<line x1="593.03" y1="33.0" x2="593.03" y2="163.5" stroke="#EBEBEB" stroke-width="0.55"/>
<line x1="599.69" y1="33.0" x2="599.69" y2="163.5" stroke="#EBEBEB" stroke-width="0.55"/>
<line x1="606.35" y1="33.0" x2="606.35" y2="163.5" stroke="#EBEBEB" stroke-width="0.55"/>
<line x1="613.01" y1="33.0" x2="613.01" y2="163.5" stroke="#EBEBEB" stroke-width="0.55"/>
<line x1="619.67" y1="33.0" x2="619.67" y2="163.5" stroke="#EBEBEB" stroke-width="0.55"/>
<line x1="626.33" y1="33.0" x2="626.33" y2="163.5" stroke="#EBEBEB" stroke-width="0.55"/>
<line x1="632.99" y1="33.0" x2="632.99" y2="163.5" stroke="#EBEBEB" stroke-width="0.55"/>
<line x1="639.65" y1="33.0" x2="639.65" y2="163.5" stroke="#EBEBEB" stroke-width="0.55"/>
<line x1="646.31" y1="33.0" x2="646.31" y2="163.5" stroke="#EBEBEB" stroke-width="0.55"/>
<line x1="652.97" y1="33.0" x2="652.97" y2="163.5" stroke="#EBEBEB" stroke-width="0.55"/>
<line x1="659.63" y1="33.0" x2="659.63" y2="163.5" stroke="#EBEBEB" stroke-width="0.55"/>
<line x1="666.29" y1="33.0" x2="666.29" y2="163.5" stroke="#EBEBEB" stroke-width="0.55"/>
<line x1="672.95" y1="33.0" x2="672.95" y2="163.5" stroke="#EBEBEB" stroke-width="0.55"/>
<line x1="679.61" y1="33.0" x2="679.61" y2="163.5" stroke="#EBEBEB" stroke-width="0.55"/>
<line x1="569.5" y1="147.7" x2="683.5" y2="147.7" stroke="#EBEBEB" stroke-width="0.55"/>
<text x="564.5" y="150.3" text-anchor="end" font-size="6.7" fill="#505050">1.00</text>
<line x1="569.5" y1="118.4" x2="683.5" y2="118.4" stroke="#EBEBEB" stroke-width="0.55"/>
<text x="564.5" y="121" text-anchor="end" font-size="6.7" fill="#505050">1.50</text>
<line x1="569.5" y1="89.1" x2="683.5" y2="89.1" stroke="#EBEBEB" stroke-width="0.55"/>
<text x="564.5" y="91.7" text-anchor="end" font-size="6.7" fill="#505050">2.00</text>
<line x1="569.5" y1="59.8" x2="683.5" y2="59.8" stroke="#EBEBEB" stroke-width="0.55"/>
<text x="564.5" y="62.4" text-anchor="end" font-size="6.7" fill="#505050">2.50</text>
<line x1="573.05" y1="141.6" x2="573.05" y2="143.6" stroke="#E42D28" stroke-width="0.7" stroke-opacity="0.75"/>
<line x1="572.2" y1="141.6" x2="573.9" y2="141.6" stroke="#E42D28" stroke-width="0.6" stroke-opacity="0.8"/>
<line x1="572.2" y1="143.6" x2="573.9" y2="143.6" stroke="#E42D28" stroke-width="0.6" stroke-opacity="0.8"/>
<ellipse cx="573.05" cy="142.6" rx="1.1" ry="1.15" fill="#E42D28"/>
<line x1="579.71" y1="141.3" x2="579.71" y2="143.3" stroke="#B5232B" stroke-width="0.7" stroke-opacity="0.75"/>
<line x1="578.86" y1="141.3" x2="580.56" y2="141.3" stroke="#B5232B" stroke-width="0.6" stroke-opacity="0.8"/>
<line x1="578.86" y1="143.3" x2="580.56" y2="143.3" stroke="#B5232B" stroke-width="0.6" stroke-opacity="0.8"/>
<ellipse cx="579.71" cy="142.3" rx="1.1" ry="1.15" fill="#B5232B"/>
<line x1="586.37" y1="144.5" x2="586.37" y2="146.5" stroke="#7E1B24" stroke-width="0.7" stroke-opacity="0.75"/>
<line x1="585.52" y1="144.5" x2="587.22" y2="144.5" stroke="#7E1B24" stroke-width="0.6" stroke-opacity="0.8"/>
<line x1="585.52" y1="146.5" x2="587.22" y2="146.5" stroke="#7E1B24" stroke-width="0.6" stroke-opacity="0.8"/>
<ellipse cx="586.37" cy="145.5" rx="1.1" ry="1.15" fill="#7E1B24"/>
<line x1="593.03" y1="140.7" x2="593.03" y2="142.7" stroke="#B5224C" stroke-width="0.7" stroke-opacity="0.75"/>
<line x1="592.18" y1="140.7" x2="593.88" y2="140.7" stroke="#B5224C" stroke-width="0.6" stroke-opacity="0.8"/>
<line x1="592.18" y1="142.7" x2="593.88" y2="142.7" stroke="#B5224C" stroke-width="0.6" stroke-opacity="0.8"/>
<ellipse cx="593.03" cy="141.7" rx="1.1" ry="1.15" fill="#B5224C"/>
<line x1="599.69" y1="145.1" x2="599.69" y2="146.9" stroke="#E95A35" stroke-width="0.7" stroke-opacity="0.75"/>
<line x1="598.84" y1="145.1" x2="600.54" y2="145.1" stroke="#E95A35" stroke-width="0.6" stroke-opacity="0.8"/>
<line x1="598.84" y1="146.9" x2="600.54" y2="146.9" stroke="#E95A35" stroke-width="0.6" stroke-opacity="0.8"/>
<ellipse cx="599.69" cy="146" rx="1.1" ry="1.15" fill="#E95A35"/>
<line x1="606.35" y1="149.4" x2="606.35" y2="151.2" stroke="#A8DB9C" stroke-width="0.7" stroke-opacity="0.75"/>
<line x1="605.5" y1="149.4" x2="607.2" y2="149.4" stroke="#A8DB9C" stroke-width="0.6" stroke-opacity="0.8"/>
<line x1="605.5" y1="151.2" x2="607.2" y2="151.2" stroke="#A8DB9C" stroke-width="0.6" stroke-opacity="0.8"/>
<ellipse cx="606.35" cy="150.3" rx="1.1" ry="1.15" fill="#A8DB9C"/>
<line x1="613.01" y1="147" x2="613.01" y2="148.8" stroke="#ABABAB" stroke-width="0.7" stroke-opacity="0.75"/>
<line x1="612.16" y1="147" x2="613.86" y2="147" stroke="#ABABAB" stroke-width="0.6" stroke-opacity="0.8"/>
<line x1="612.16" y1="148.8" x2="613.86" y2="148.8" stroke="#ABABAB" stroke-width="0.6" stroke-opacity="0.8"/>
<ellipse cx="613.01" cy="147.9" rx="1.1" ry="1.15" fill="#ABABAB"/>
<line x1="619.67" y1="152.8" x2="619.67" y2="154.8" stroke="#D4A52D" stroke-width="0.7" stroke-opacity="0.75"/>
<line x1="618.82" y1="152.8" x2="620.52" y2="152.8" stroke="#D4A52D" stroke-width="0.6" stroke-opacity="0.8"/>
<line x1="618.82" y1="154.8" x2="620.52" y2="154.8" stroke="#D4A52D" stroke-width="0.6" stroke-opacity="0.8"/>
<ellipse cx="619.67" cy="153.8" rx="1.1" ry="1.15" fill="#D4A52D"/>
<line x1="626.33" y1="154.6" x2="626.33" y2="156.6" stroke="#E8DC48" stroke-width="0.7" stroke-opacity="0.75"/>
<line x1="625.48" y1="154.6" x2="627.18" y2="154.6" stroke="#E8DC48" stroke-width="0.6" stroke-opacity="0.8"/>
<line x1="625.48" y1="156.6" x2="627.18" y2="156.6" stroke="#E8DC48" stroke-width="0.6" stroke-opacity="0.8"/>
<ellipse cx="626.33" cy="155.6" rx="1.1" ry="1.15" fill="#E8DC48"/>
<line x1="632.99" y1="150" x2="632.99" y2="151.8" stroke="#E8B94A" stroke-width="0.7" stroke-opacity="0.75"/>
<line x1="632.14" y1="150" x2="633.84" y2="150" stroke="#E8B94A" stroke-width="0.6" stroke-opacity="0.8"/>
<line x1="632.14" y1="151.8" x2="633.84" y2="151.8" stroke="#E8B94A" stroke-width="0.6" stroke-opacity="0.8"/>
<ellipse cx="632.99" cy="150.9" rx="1.1" ry="1.15" fill="#E8B94A"/>
<line x1="639.65" y1="155.1" x2="639.65" y2="157.7" stroke="#F0EC70" stroke-width="0.7" stroke-opacity="0.75"/>
<line x1="638.8" y1="155.1" x2="640.5" y2="155.1" stroke="#F0EC70" stroke-width="0.6" stroke-opacity="0.8"/>
<line x1="638.8" y1="157.7" x2="640.5" y2="157.7" stroke="#F0EC70" stroke-width="0.6" stroke-opacity="0.8"/>
<ellipse cx="639.65" cy="156.4" rx="1.1" ry="1.15" fill="#F0EC70"/>
<line x1="646.31" y1="139.7" x2="646.31" y2="141.9" stroke="#DFB5DA" stroke-width="0.7" stroke-opacity="0.75"/>
<line x1="645.46" y1="139.7" x2="647.16" y2="139.7" stroke="#DFB5DA" stroke-width="0.6" stroke-opacity="0.8"/>
<line x1="645.46" y1="141.9" x2="647.16" y2="141.9" stroke="#DFB5DA" stroke-width="0.6" stroke-opacity="0.8"/>
<ellipse cx="646.31" cy="140.8" rx="1.1" ry="1.15" fill="#DFB5DA"/>
<line x1="652.97" y1="125.1" x2="652.97" y2="130.4" stroke="#9C8FB0" stroke-width="0.7" stroke-opacity="0.75"/>
<line x1="652.12" y1="125.1" x2="653.82" y2="125.1" stroke="#9C8FB0" stroke-width="0.6" stroke-opacity="0.8"/>
<line x1="652.12" y1="130.4" x2="653.82" y2="130.4" stroke="#9C8FB0" stroke-width="0.6" stroke-opacity="0.8"/>
<ellipse cx="652.97" cy="127.8" rx="1.1" ry="1.15" fill="#9C8FB0"/>
<line x1="659.63" y1="38.4" x2="659.63" y2="50.1" stroke="#958CAB" stroke-width="0.7" stroke-opacity="0.75"/>
<line x1="658.78" y1="38.4" x2="660.48" y2="38.4" stroke="#958CAB" stroke-width="0.6" stroke-opacity="0.8"/>
<line x1="658.78" y1="50.1" x2="660.48" y2="50.1" stroke="#958CAB" stroke-width="0.6" stroke-opacity="0.8"/>
<ellipse cx="659.63" cy="44" rx="1.1" ry="1.15" fill="#958CAB"/>
<line x1="666.29" y1="134.4" x2="666.29" y2="136.8" stroke="#A050AB" stroke-width="0.7" stroke-opacity="0.75"/>
<line x1="665.44" y1="134.4" x2="667.14" y2="134.4" stroke="#A050AB" stroke-width="0.6" stroke-opacity="0.8"/>
<line x1="665.44" y1="136.8" x2="667.14" y2="136.8" stroke="#A050AB" stroke-width="0.6" stroke-opacity="0.8"/>
<ellipse cx="666.29" cy="135.6" rx="1.1" ry="1.15" fill="#A050AB"/>
<line x1="672.95" y1="136.4" x2="672.95" y2="138.8" stroke="#CDBFDC" stroke-width="0.7" stroke-opacity="0.75"/>
<line x1="672.1" y1="136.4" x2="673.8" y2="136.4" stroke="#CDBFDC" stroke-width="0.6" stroke-opacity="0.8"/>
<line x1="672.1" y1="138.8" x2="673.8" y2="138.8" stroke="#CDBFDC" stroke-width="0.6" stroke-opacity="0.8"/>
<ellipse cx="672.95" cy="137.6" rx="1.1" ry="1.15" fill="#CDBFDC"/>
<line x1="679.61" y1="120.9" x2="679.61" y2="125.4" stroke="#7B3470" stroke-width="0.7" stroke-opacity="0.75"/>
<line x1="678.76" y1="120.9" x2="680.46" y2="120.9" stroke="#7B3470" stroke-width="0.6" stroke-opacity="0.8"/>
<line x1="678.76" y1="125.4" x2="680.46" y2="125.4" stroke="#7B3470" stroke-width="0.6" stroke-opacity="0.8"/>
<ellipse cx="679.61" cy="123.2" rx="1.1" ry="1.15" fill="#7B3470"/>
<line x1="569.5" y1="147.9" x2="683.5" y2="147.9" stroke="#4A72A8" stroke-opacity="0.65" stroke-width="1.1" stroke-dasharray="3.9 4.3" stroke-dashoffset="0.5"/>
<rect x="569.5" y="33.0" width="114.0" height="130.5" fill="none" stroke="#333333" stroke-width="1.1"/>
<text x="573.65" y="168.7" transform="rotate(-45 573.65 168.7)" text-anchor="end" dominant-baseline="hanging" font-size="5.8" fill="#3A3A3A">NOx</text>
<text x="580.31" y="168.7" transform="rotate(-45 580.31 168.7)" text-anchor="end" dominant-baseline="hanging" font-size="5.8" fill="#3A3A3A">NO2</text>
<text x="586.97" y="168.7" transform="rotate(-45 586.97 168.7)" text-anchor="end" dominant-baseline="hanging" font-size="5.8" fill="#3A3A3A">PM10</text>
<text x="593.63" y="168.7" transform="rotate(-45 593.63 168.7)" text-anchor="end" dominant-baseline="hanging" font-size="5.8" fill="#3A3A3A">PM2.5</text>
<text x="600.29" y="168.7" transform="rotate(-45 600.29 168.7)" text-anchor="end" dominant-baseline="hanging" font-size="5.8" fill="#3A3A3A">Noise</text>
<text x="606.95" y="168.7" transform="rotate(-45 606.95 168.7)" text-anchor="end" dominant-baseline="hanging" font-size="5.8" fill="#3A3A3A">Green space</text>
<text x="613.61" y="168.7" transform="rotate(-45 613.61 168.7)" text-anchor="end" dominant-baseline="hanging" font-size="5.8" fill="#3A3A3A">Blue space</text>
<text x="620.27" y="168.7" transform="rotate(-45 620.27 168.7)" text-anchor="end" dominant-baseline="hanging" font-size="5.8" fill="#3A3A3A">Diet</text>
<text x="626.93" y="168.7" transform="rotate(-45 626.93 168.7)" text-anchor="end" dominant-baseline="hanging" font-size="5.8" fill="#3A3A3A">Leisure PA</text>
<text x="633.59" y="168.7" transform="rotate(-45 633.59 168.7)" text-anchor="end" dominant-baseline="hanging" font-size="5.8" fill="#3A3A3A">Total PA</text>
<text x="640.25" y="168.7" transform="rotate(-45 640.25 168.7)" text-anchor="end" dominant-baseline="hanging" font-size="5.8" fill="#3A3A3A">Sleep duration</text>
<text x="646.91" y="168.7" transform="rotate(-45 646.91 168.7)" text-anchor="end" dominant-baseline="hanging" font-size="5.8" fill="#3A3A3A">Sedentary behavior</text>
<text x="653.57" y="168.7" transform="rotate(-45 653.57 168.7)" text-anchor="end" dominant-baseline="hanging" font-size="5.8" fill="#3A3A3A">Previous Smoke</text>
<text x="660.23" y="168.7" transform="rotate(-45 660.23 168.7)" text-anchor="end" dominant-baseline="hanging" font-size="5.8" fill="#3A3A3A">Current Smoke</text>
<text x="666.89" y="168.7" transform="rotate(-45 666.89 168.7)" text-anchor="end" dominant-baseline="hanging" font-size="5.8" fill="#3A3A3A">IMD scores</text>
<text x="673.55" y="168.7" transform="rotate(-45 673.55 168.7)" text-anchor="end" dominant-baseline="hanging" font-size="5.8" fill="#3A3A3A">Social isolation</text>
<text x="680.21" y="168.7" transform="rotate(-45 680.21 168.7)" text-anchor="end" dominant-baseline="hanging" font-size="5.8" fill="#3A3A3A">Depression/anxiety</text>
<text x="626.35" y="243.4" text-anchor="middle" font-weight="bold" font-size="7.5" fill="#000">Death</text>
<line x1="573.15" y1="250.6" x2="573.15" y2="381.5" stroke="#EBEBEB" stroke-width="0.55"/>
<line x1="579.79" y1="250.6" x2="579.79" y2="381.5" stroke="#EBEBEB" stroke-width="0.55"/>
<line x1="586.44" y1="250.6" x2="586.44" y2="381.5" stroke="#EBEBEB" stroke-width="0.55"/>
<line x1="593.08" y1="250.6" x2="593.08" y2="381.5" stroke="#EBEBEB" stroke-width="0.55"/>
<line x1="599.73" y1="250.6" x2="599.73" y2="381.5" stroke="#EBEBEB" stroke-width="0.55"/>
<line x1="606.38" y1="250.6" x2="606.38" y2="381.5" stroke="#EBEBEB" stroke-width="0.55"/>
<line x1="613.02" y1="250.6" x2="613.02" y2="381.5" stroke="#EBEBEB" stroke-width="0.55"/>
<line x1="619.66" y1="250.6" x2="619.66" y2="381.5" stroke="#EBEBEB" stroke-width="0.55"/>
<line x1="626.31" y1="250.6" x2="626.31" y2="381.5" stroke="#EBEBEB" stroke-width="0.55"/>
<line x1="632.95" y1="250.6" x2="632.95" y2="381.5" stroke="#EBEBEB" stroke-width="0.55"/>
<line x1="639.6" y1="250.6" x2="639.6" y2="381.5" stroke="#EBEBEB" stroke-width="0.55"/>
<line x1="646.25" y1="250.6" x2="646.25" y2="381.5" stroke="#EBEBEB" stroke-width="0.55"/>
<line x1="652.89" y1="250.6" x2="652.89" y2="381.5" stroke="#EBEBEB" stroke-width="0.55"/>
<line x1="659.53" y1="250.6" x2="659.53" y2="381.5" stroke="#EBEBEB" stroke-width="0.55"/>
<line x1="666.18" y1="250.6" x2="666.18" y2="381.5" stroke="#EBEBEB" stroke-width="0.55"/>
<line x1="672.82" y1="250.6" x2="672.82" y2="381.5" stroke="#EBEBEB" stroke-width="0.55"/>
<line x1="679.47" y1="250.6" x2="679.47" y2="381.5" stroke="#EBEBEB" stroke-width="0.55"/>
<line x1="569.4" y1="375.7" x2="683.3" y2="375.7" stroke="#EBEBEB" stroke-width="0.55"/>
<text x="564.4" y="378.3" text-anchor="end" font-size="6.7" fill="#505050">0.00</text>
<line x1="569.4" y1="337.7" x2="683.3" y2="337.7" stroke="#EBEBEB" stroke-width="0.55"/>
<text x="564.4" y="340.3" text-anchor="end" font-size="6.7" fill="#505050">0.05</text>
<line x1="569.4" y1="299.7" x2="683.3" y2="299.7" stroke="#EBEBEB" stroke-width="0.55"/>
<text x="564.4" y="302.3" text-anchor="end" font-size="6.7" fill="#505050">0.10</text>
<line x1="569.4" y1="261.7" x2="683.3" y2="261.7" stroke="#EBEBEB" stroke-width="0.55"/>
<text x="564.4" y="264.3" text-anchor="end" font-size="6.7" fill="#505050">0.15</text>
<rect x="570.3" y="353.3" width="5.7" height="22.4" fill="#E42D28"/>
<rect x="576.94" y="353.8" width="5.7" height="21.9" fill="#B5232B"/>
<rect x="583.59" y="361" width="5.7" height="14.7" fill="#7E1B24"/>
<rect x="590.23" y="358.2" width="5.7" height="17.5" fill="#B5224C"/>
<rect x="596.88" y="367.7" width="5.7" height="8" fill="#E95A35"/>
<rect x="603.52" y="361.9" width="5.7" height="13.8" fill="#A8DB9C"/>
<rect x="610.17" y="369.7" width="5.7" height="6" fill="#3A9A6E"/>
<rect x="616.81" y="360.2" width="5.7" height="15.5" fill="#D4A52D"/>
<rect x="623.46" y="319.8" width="5.7" height="55.9" fill="#E8DC48"/>
<rect x="630.1" y="355.3" width="5.7" height="20.4" fill="#E8B94A"/>
<rect x="636.75" y="353.3" width="5.7" height="22.4" fill="#F0EC70"/>
<rect x="643.39" y="333.6" width="5.7" height="42.1" fill="#DFB5DA"/>
<rect x="650.04" y="305.4" width="5.7" height="70.3" fill="#9C8FB0"/>
<rect x="656.68" y="255.8" width="5.7" height="119.9" fill="#958CAB"/>
<rect x="663.33" y="329.9" width="5.7" height="45.8" fill="#A050AB"/>
<rect x="669.97" y="327.3" width="5.7" height="48.4" fill="#CDBFDC"/>
<rect x="676.62" y="322.1" width="5.7" height="53.6" fill="#7B3470"/>
<rect x="569.4" y="250.6" width="113.9" height="130.9" fill="none" stroke="#333333" stroke-width="1.1"/>
<text x="573.75" y="386.7" transform="rotate(-45 573.75 386.7)" text-anchor="end" dominant-baseline="hanging" font-size="5.8" fill="#3A3A3A">NOx</text>
<text x="580.39" y="386.7" transform="rotate(-45 580.39 386.7)" text-anchor="end" dominant-baseline="hanging" font-size="5.8" fill="#3A3A3A">NO2</text>
<text x="587.04" y="386.7" transform="rotate(-45 587.04 386.7)" text-anchor="end" dominant-baseline="hanging" font-size="5.8" fill="#3A3A3A">PM10</text>
<text x="593.68" y="386.7" transform="rotate(-45 593.68 386.7)" text-anchor="end" dominant-baseline="hanging" font-size="5.8" fill="#3A3A3A">PM2.5</text>
<text x="600.33" y="386.7" transform="rotate(-45 600.33 386.7)" text-anchor="end" dominant-baseline="hanging" font-size="5.8" fill="#3A3A3A">Noise</text>
<text x="606.98" y="386.7" transform="rotate(-45 606.98 386.7)" text-anchor="end" dominant-baseline="hanging" font-size="5.8" fill="#3A3A3A">Green space</text>
<text x="613.62" y="386.7" transform="rotate(-45 613.62 386.7)" text-anchor="end" dominant-baseline="hanging" font-size="5.8" fill="#3A3A3A">Blue space</text>
<text x="620.26" y="386.7" transform="rotate(-45 620.26 386.7)" text-anchor="end" dominant-baseline="hanging" font-size="5.8" fill="#3A3A3A">Diet</text>
<text x="626.91" y="386.7" transform="rotate(-45 626.91 386.7)" text-anchor="end" dominant-baseline="hanging" font-size="5.8" fill="#3A3A3A">Leisure PA</text>
<text x="633.55" y="386.7" transform="rotate(-45 633.55 386.7)" text-anchor="end" dominant-baseline="hanging" font-size="5.8" fill="#3A3A3A">Total PA</text>
<text x="640.2" y="386.7" transform="rotate(-45 640.2 386.7)" text-anchor="end" dominant-baseline="hanging" font-size="5.8" fill="#3A3A3A">Sleep duration</text>
<text x="646.85" y="386.7" transform="rotate(-45 646.85 386.7)" text-anchor="end" dominant-baseline="hanging" font-size="5.8" fill="#3A3A3A">Sedentary behavior</text>
<text x="653.49" y="386.7" transform="rotate(-45 653.49 386.7)" text-anchor="end" dominant-baseline="hanging" font-size="5.8" fill="#3A3A3A">Previous Smoke</text>
<text x="660.13" y="386.7" transform="rotate(-45 660.13 386.7)" text-anchor="end" dominant-baseline="hanging" font-size="5.8" fill="#3A3A3A">Current Smoke</text>
<text x="666.78" y="386.7" transform="rotate(-45 666.78 386.7)" text-anchor="end" dominant-baseline="hanging" font-size="5.8" fill="#3A3A3A">IMD scores</text>
<text x="673.42" y="386.7" transform="rotate(-45 673.42 386.7)" text-anchor="end" dominant-baseline="hanging" font-size="5.8" fill="#3A3A3A">Social isolation</text>
<text x="680.07" y="386.7" transform="rotate(-45 680.07 386.7)" text-anchor="end" dominant-baseline="hanging" font-size="5.8" fill="#3A3A3A">Depression/anxiety</text>
<text transform="translate(6.0 97.6) rotate(-90)" text-anchor="middle" font-size="6.9" fill="#000">HR, 95%CI</text>
<text transform="translate(6.7 316) rotate(-90)" text-anchor="middle" font-size="6.9" fill="#000">Mean Absolute SHAP Value</text>
<text x="28.7" y="5.0" font-size="6.6" fill="#000">a.</text>
<text x="28.7" y="222.6" font-size="6.6" fill="#000">b.</text>
<rect x="79.1" y="441.0" width="10.8" height="10.8" fill="#E42D28"/>
<text x="94.2" y="448" font-size="6.0" fill="#000">NOx</text>
<rect x="121.0" y="441.0" width="10.8" height="10.8" fill="#B5232B"/>
<text x="136.1" y="448" font-size="6.0" fill="#000">NO2</text>
<rect x="178.8" y="441.0" width="10.8" height="10.8" fill="#7E1B24"/>
<text x="193.9" y="448" font-size="6.0" fill="#000">PM10</text>
<rect x="250.4" y="441.0" width="10.8" height="10.8" fill="#B5224C"/>
<text x="265.5" y="448" font-size="6.0" fill="#000">PM2.5</text>
<rect x="313.1" y="441.0" width="10.8" height="10.8" fill="#E95A35"/>
<text x="328.2" y="448" font-size="6.0" fill="#000">Noise</text>
<rect x="372.9" y="441.0" width="10.8" height="10.8" fill="#A8DB9C"/>
<text x="388" y="448" font-size="6.0" fill="#000">Green space</text>
<rect x="427.0" y="441.0" width="10.8" height="10.8" fill="#3A9A6E"/>
<text x="442.1" y="448" font-size="6.0" fill="#000">Blue space</text>
<rect x="486.3" y="441.0" width="10.8" height="10.8" fill="#D4A52D"/>
<text x="501.4" y="448" font-size="6.0" fill="#000">Diet</text>
<rect x="556.9" y="441.0" width="10.8" height="10.8" fill="#E8DC48"/>
<text x="572" y="448" font-size="6.0" fill="#000">Leisure PA</text>
<rect x="79.1" y="456.5" width="10.8" height="10.8" fill="#E8B94A"/>
<text x="94.2" y="463.5" font-size="6.0" fill="#000">Total PA</text>
<rect x="121.0" y="456.5" width="10.8" height="10.8" fill="#F0EC70"/>
<text x="136.1" y="463.5" font-size="6.0" fill="#000">Sleep duration</text>
<rect x="178.8" y="456.5" width="10.8" height="10.8" fill="#DFB5DA"/>
<text x="193.9" y="463.5" font-size="6.0" fill="#000">Sedentary behavior</text>
<rect x="250.4" y="456.5" width="10.8" height="10.8" fill="#9C8FB0"/>
<text x="265.5" y="463.5" font-size="6.0" fill="#000">Previous Smoke</text>
<rect x="313.1" y="456.5" width="10.8" height="10.8" fill="#958CAB"/>
<text x="328.2" y="463.5" font-size="6.0" fill="#000">Current Smoke</text>
<rect x="372.9" y="456.5" width="10.8" height="10.8" fill="#A050AB"/>
<text x="388" y="463.5" font-size="6.0" fill="#000">IMD scores</text>
<rect x="427.0" y="456.5" width="10.8" height="10.8" fill="#CDBFDC"/>
<text x="442.1" y="463.5" font-size="6.0" fill="#000">Social isolation</text>
<rect x="486.3" y="456.5" width="10.8" height="10.8" fill="#7B3470"/>
<text x="501.4" y="463.5" font-size="6.0" fill="#000">Depression/anxiety</text>
<rect x="556.9" y="456.5" width="10.8" height="10.8" fill="#E0E0E0"/>
<text x="572" y="463.5" font-size="6.0" fill="#000">ns (p &gt; 0.05)</text>
</svg></body></html>
